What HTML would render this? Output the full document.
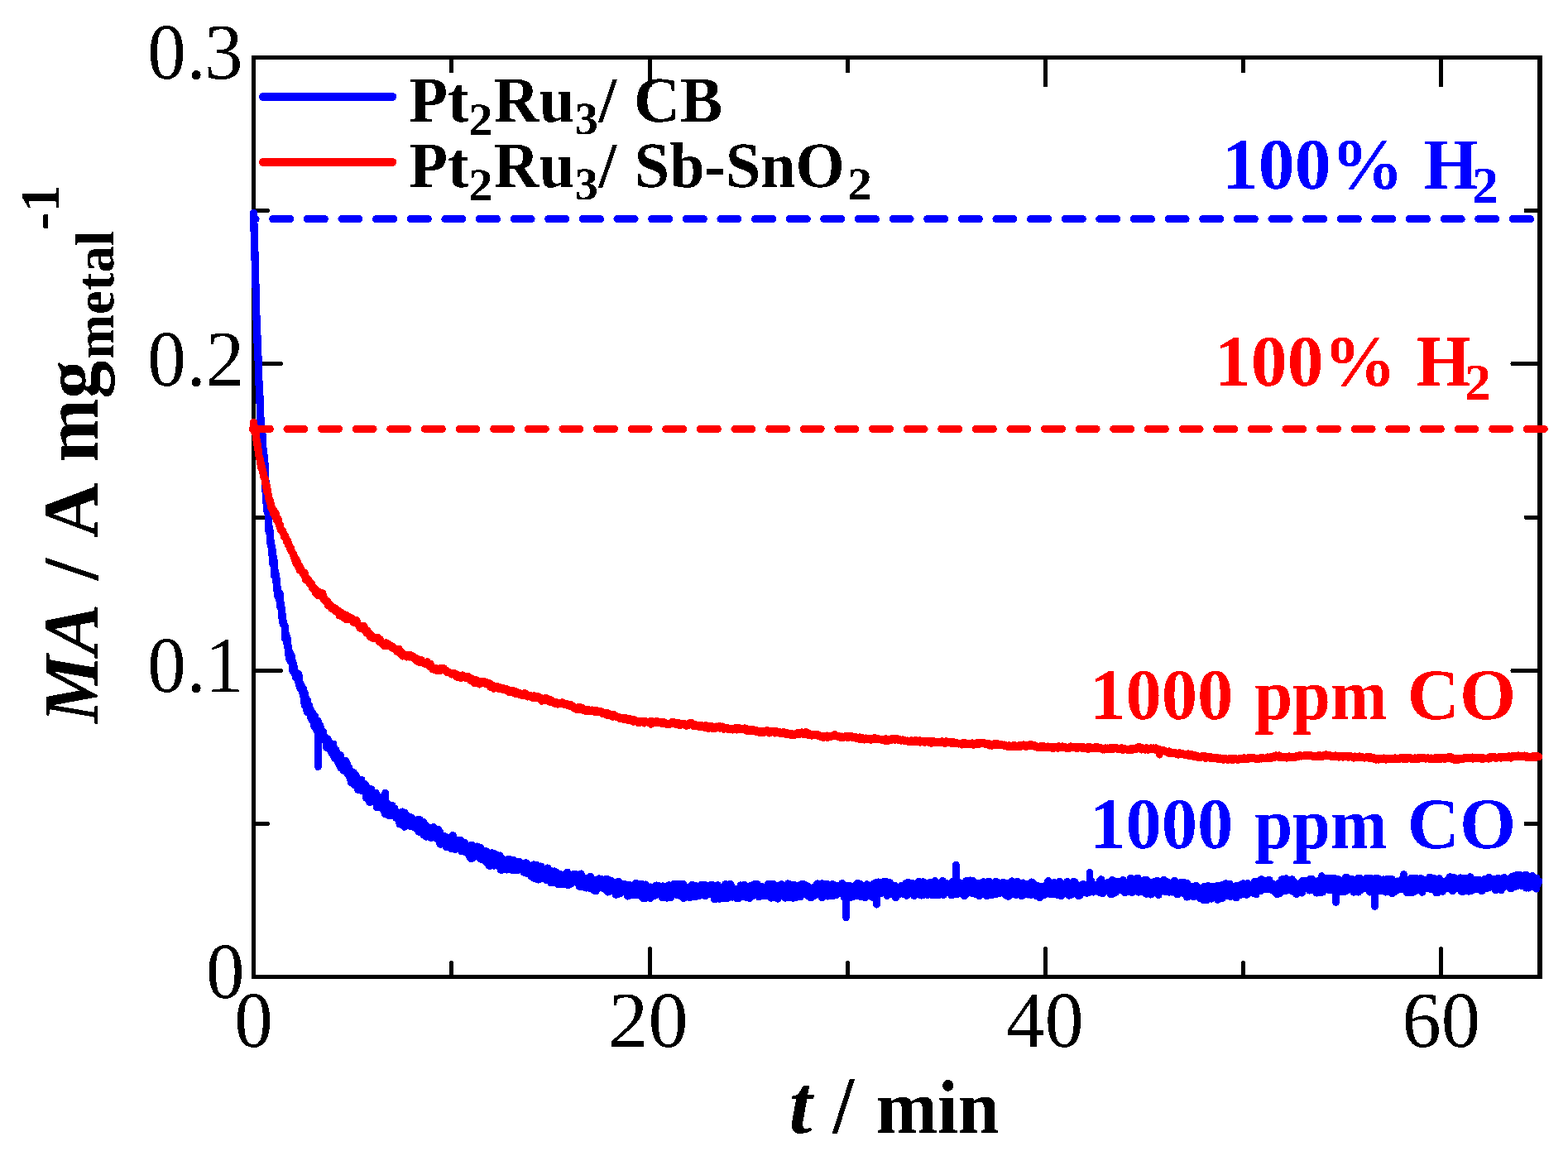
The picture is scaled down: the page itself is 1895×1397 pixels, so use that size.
<!DOCTYPE html>
<html lang="en"><head><meta charset="utf-8"><title>MA vs t</title>
<style>html,body{margin:0;padding:0;background:#fff}body{width:1895px;height:1397px;overflow:hidden}svg{display:block}text{font-family:"Liberation Serif","Times New Roman",Times,serif;font-kerning:none;font-variant-ligatures:none}.r{font-weight:400}.b{font-weight:700}.bi{font-weight:700;font-style:italic}</style></head><body>
<svg width="1895" height="1397" viewBox="0 0 1895 1397" shape-rendering="crispEdges" text-rendering="geometricPrecision">
<rect x="0" y="0" width="1895" height="1397" fill="#fff"/>
<path d="M545.5,1180.5V1163.6M785.5,1180.5V1146.5M1024.5,1180.5V1163.6M1263.5,1180.5V1146.5M1502.5,1180.5V1163.6M1741.5,1180.5V1146.5M306.5,995.5H323.4M1861.0,995.5H1844.1M306.5,810.5H339.6M1861.0,810.5H1827.9M306.5,625.2H323.4M1861.0,625.2H1844.1M306.5,439.5H339.6M1861.0,439.5H1827.9M306.5,254.5H323.4M1861.0,254.5H1844.1" fill="none" stroke="#000" stroke-width="5" stroke-linecap="round"/>
<path d="M545.5,69.5V87.6M785.5,69.5V104.7M1024.5,69.5V87.6M1263.5,69.5V104.7M1502.5,69.5V87.6M1741.5,69.5V104.7" fill="none" stroke="#000" stroke-width="5" stroke-linecap="butt"/>
<rect x="304" y="67" width="1560" height="5" fill="#000"/><rect x="304" y="1178" width="1560" height="5" fill="#000"/><rect x="304" y="67" width="5" height="1116" fill="#000"/><rect x="1858" y="67" width="6" height="1116" fill="#000"/>
<line x1="1849.3" y1="264.6" x2="307.2" y2="264.6" stroke="#0000ff" stroke-width="9.3" stroke-linecap="round" stroke-dasharray="20.8 20.83"/>
<path d="M306.4,257.4 306.8,267.3 307.2,281.4 307.6,296.5 308.0,307.4 308.4,327.5 308.8,342.2 309.2,348.4 309.6,373.7 310.0,384.2 310.4,390.2 310.8,402.8 311.2,416.1 311.6,423.2 312.0,433.9 312.4,439.2 312.8,458.5 313.2,466.9 313.6,477.4 314.0,478.8 314.4,501.9 314.8,503.5 315.2,507.9 315.6,523.6 316.0,520.1 316.4,518.7 316.8,527.8 317.2,525.8 317.6,543.3 318.0,541.6 318.4,545.1 318.8,557.9 319.2,550.7 319.6,565.2 320.0,559.7 320.4,571.0 320.8,575.9 321.2,597.0 321.6,607.1 322.0,604.2 322.4,613.7 322.8,612.9 323.2,619.6 323.6,617.2 324.0,616.5 324.4,619.8 324.8,633.3 325.2,643.8 325.6,640.5 326.0,640.8 326.4,655.2 326.8,651.4 327.2,654.4 327.6,658.5 328.0,660.2 328.4,662.8 328.8,661.1 329.2,672.8 329.6,673.3 330.0,682.0 330.4,678.2 330.8,674.4 331.2,685.3 331.6,696.0 332.0,689.6 332.4,690.1 332.8,691.4 333.2,694.6 333.6,700.4 334.0,698.9 334.4,712.9 334.8,707.3 335.2,711.1 335.6,719.0 336.0,721.4 336.4,715.8 336.8,720.2 337.2,724.0 337.6,722.0 338.0,717.0 338.4,729.8 338.8,733.0 339.2,733.0 339.6,729.4 340.0,734.9 340.4,735.4 340.8,739.1 341.2,748.5 341.6,751.9 342.0,750.5 342.4,752.3 342.8,755.2 343.2,754.5 343.6,756.4 344.0,756.1 344.4,761.2 344.8,772.1 345.2,769.9 345.6,766.9 346.0,768.7 346.4,769.2 346.8,776.9 347.2,779.1 347.6,773.1 348.0,783.6 348.4,780.9 348.8,791.5 349.2,787.7 349.6,796.2 350.0,788.2 350.4,790.5 350.8,794.6 351.2,799.4 351.6,798.6 352.0,792.0 352.4,799.6 352.8,800.2 353.2,799.5 353.6,799.8 354.0,811.5 354.4,803.3 354.8,802.5 355.2,810.2 355.6,809.2 356.0,809.4 356.4,814.3 356.8,814.2 357.2,814.7 357.6,818.5 358.0,816.6 358.4,813.8 358.8,816.0 359.2,816.5 359.6,820.8 360.0,816.4 360.4,814.2 360.8,823.9 361.2,818.8 361.6,817.5 362.0,828.7 362.4,825.2 362.8,831.7 363.2,828.4 363.6,827.0 364.0,827.7 364.4,832.1 364.8,834.3 365.2,833.0 365.6,836.6 366.0,832.2 366.4,840.1 366.8,833.2 367.2,841.3 367.6,846.3 368.0,849.1 368.4,852.8 368.8,839.4 369.2,850.6 369.6,853.6 370.0,853.6 370.4,846.1 370.8,853.0 371.2,860.3 371.6,846.5 372.0,856.2 372.4,859.9 372.8,852.9 373.2,859.5 373.6,853.1 374.0,855.2 374.4,856.2 374.8,861.6 375.2,861.3 375.6,866.8 376.0,859.4 376.4,863.9 376.8,869.7 377.2,868.9 377.6,861.5 378.0,871.2 378.4,867.0 378.8,871.7 379.2,872.2 379.6,877.1 380.0,873.1 380.4,865.2 380.8,868.2 381.2,878.2 381.6,874.6 382.0,881.4 382.4,878.4 382.8,874.6 383.2,883.3 383.6,875.7 384.0,871.5 384.4,888.9 384.8,872.8 385.2,884.6 385.6,886.5 386.0,883.6 386.4,876.2 386.8,888.7 387.2,878.4 387.6,879.5 388.0,884.4 388.4,890.0 388.8,888.5 389.2,891.3 389.6,886.4 390.0,888.1 390.4,884.5 390.8,888.7 391.2,893.3 391.6,889.9 392.0,893.9 392.4,889.9 392.8,890.4 393.2,893.7 393.6,893.3 394.0,897.3 394.4,896.1 394.8,903.5 395.2,895.5 395.6,896.0 396.0,893.0 396.4,898.3 396.8,901.7 397.2,896.0 397.6,899.6 398.0,903.6 398.4,900.4 398.8,899.3 399.2,906.4 399.6,903.1 400.0,905.0 400.4,909.0 400.8,909.5 401.2,903.6 401.6,903.4 402.0,907.6 402.4,906.4 402.8,899.2 403.2,913.8 403.6,909.0 404.0,912.8 404.4,905.0 404.8,916.5 405.2,908.9 405.6,911.7 406.0,906.7 406.4,912.8 406.8,913.2 407.2,914.0 407.6,917.4 408.0,916.3 408.4,921.0 408.8,915.2 409.2,913.5 409.6,918.3 410.0,921.7 410.4,925.0 410.8,923.6 411.2,912.7 411.6,922.6 412.0,927.9 412.4,922.2 412.8,920.1 413.2,924.2 413.6,921.1 414.0,926.6 414.4,924.2 414.8,930.8 415.2,927.3 415.6,922.4 416.0,928.7 416.4,930.7 416.8,924.6 417.2,925.7 417.6,919.7 418.0,932.6 418.4,926.5 418.8,921.3 419.2,922.4 419.6,929.7 420.0,934.6 420.4,931.4 420.8,934.4 421.2,928.1 421.6,927.6 422.0,937.9 422.4,936.7 422.8,935.0 423.2,941.3 423.6,932.1 424.0,934.9 424.4,941.8 424.8,945.9 425.2,938.4 425.6,946.3 426.0,936.8 426.4,941.4 426.8,939.6 427.2,933.9 427.6,942.4 428.0,945.8 428.4,941.5 428.8,942.3 429.2,949.1 429.6,937.9 430.0,937.1 430.4,941.2 430.8,939.2 431.2,950.7 431.6,946.5 432.0,941.6 432.4,943.1 432.8,954.4 433.2,943.7 433.6,943.4 434.0,948.4 434.4,950.3 434.8,948.8 435.2,944.2 435.6,943.5 436.0,951.6 436.4,949.1 436.8,942.5 437.2,955.3 437.6,954.0 438.0,950.0 438.4,950.3 438.8,952.9 439.2,949.3 439.6,946.9 440.0,954.7 440.4,947.4 440.8,955.9 441.2,948.4 441.6,954.7 442.0,955.1 442.4,964.0 442.8,951.9 443.2,950.9 443.6,954.7 444.0,953.1 444.4,955.9 444.8,960.8 445.2,962.8 445.6,967.1 446.0,957.0 446.4,969.0 446.8,969.4 447.2,960.5 447.6,953.4 448.0,961.7 448.4,962.8 448.8,954.4 449.2,963.4 449.6,962.5 450.0,960.2 450.4,966.7 450.8,968.7 451.2,962.4 451.6,965.8 452.0,962.2 452.4,961.9 452.8,966.0 453.2,968.2 453.6,963.8 454.0,958.2 454.4,969.4 454.8,960.2 455.2,968.1 455.6,975.7 456.0,968.2 456.4,963.4 456.8,962.6 457.2,974.6 457.6,969.8 458.0,972.6 458.4,974.7 458.8,970.9 459.2,970.1 459.6,967.7 460.0,964.0 460.4,966.0 460.8,972.8 461.2,972.7 461.6,975.6 462.0,973.6 462.4,975.2 462.8,978.3 463.2,971.3 463.6,974.2 464.0,968.7 464.4,980.3 464.8,976.4 465.2,978.7 465.6,983.5 466.0,981.7 466.4,976.9 466.8,980.9 467.2,971.4 467.6,979.8 468.0,978.8 468.4,971.3 468.8,984.6 469.2,975.9 469.6,982.2 470.0,977.7 470.4,984.1 470.8,985.8 471.2,976.7 471.6,973.8 472.0,980.2 472.4,984.8 472.8,979.7 473.2,978.8 473.6,983.9 474.0,973.6 474.4,979.2 474.8,976.3 475.2,983.9 475.6,979.5 476.0,978.0 476.4,981.6 476.8,976.9 477.2,983.5 477.6,980.7 478.0,982.3 478.4,981.0 478.8,988.4 479.2,984.2 479.6,987.2 480.0,987.3 480.4,981.9 480.8,988.3 481.2,987.6 481.6,987.7 482.0,984.9 482.4,985.1 482.8,990.7 483.2,995.9 483.6,984.2 484.0,990.5 484.4,986.8 484.8,992.2 485.2,990.9 485.6,993.9 486.0,981.1 486.4,987.0 486.8,985.5 487.2,989.6 487.6,987.1 488.0,987.6 488.4,993.6 488.8,999.1 489.2,982.6 489.6,989.7 490.0,992.5 490.4,991.3 490.8,989.9 491.2,985.5 491.6,987.4 492.0,994.9 492.4,996.5 492.8,992.3 493.2,988.3 493.6,992.5 494.0,991.1 494.4,994.7 494.8,992.9 495.2,989.8 495.6,993.5 496.0,987.7 496.4,996.7 496.8,998.5 497.2,988.3 497.6,995.5 498.0,989.6 498.4,998.9 498.8,998.4 499.2,993.6 499.6,999.3 500.0,993.2 500.4,992.5 500.8,993.1 501.2,995.2 501.6,994.6 502.0,997.0 502.4,993.8 502.8,1000.1 503.2,1001.4 503.6,994.9 504.0,991.0 504.4,1000.7 504.8,1002.8 505.2,997.2 505.6,992.5 506.0,999.6 506.4,1005.3 506.8,990.6 507.2,1001.2 507.6,997.9 508.0,995.8 508.4,1002.0 508.8,994.4 509.2,1001.6 509.6,1006.4 510.0,1001.6 510.4,997.2 510.8,993.5 511.2,995.9 511.6,993.7 512.0,1009.1 512.4,1001.2 512.8,997.9 513.2,997.0 513.6,998.3 514.0,1001.7 514.4,997.7 514.8,1011.0 515.2,1000.5 515.6,1000.5 516.0,1005.5 516.4,1010.7 516.8,1010.3 517.2,1002.5 517.6,1006.0 518.0,1005.7 518.4,1007.5 518.8,1006.5 519.2,1001.4 519.6,1000.2 520.0,1006.7 520.4,1000.9 520.8,1012.3 521.2,1006.7 521.6,1002.2 522.0,1005.5 522.4,1004.9 522.8,1006.7 523.2,1011.7 523.6,1001.4 524.0,999.7 524.4,1009.6 524.8,1007.6 525.2,1009.3 525.6,1010.7 526.0,1008.2 526.4,1012.7 526.8,1005.5 527.2,1009.9 527.6,1006.1 528.0,1005.0 528.4,1012.9 528.8,1012.9 529.2,1002.2 529.6,1005.8 530.0,1012.2 530.4,1015.8 530.8,1008.3 531.2,1010.6 531.6,1005.3 532.0,1020.1 532.4,1014.0 532.8,1016.0 533.2,1015.1 533.6,1016.5 534.0,1015.3 534.4,1011.3 534.8,1016.2 535.2,1013.5 535.6,1019.0 536.0,1010.3 536.4,1011.3 536.8,1016.8 537.2,1019.7 537.6,1014.9 538.0,1011.3 538.4,1014.1 538.8,1012.6 539.2,1023.3 539.6,1019.1 540.0,1020.8 540.4,1016.8 540.8,1013.1 541.2,1020.9 541.6,1023.2 542.0,1018.6 542.4,1016.0 542.8,1021.0 543.2,1014.8 543.6,1019.9 544.0,1013.5 544.4,1012.5 544.8,1019.4 545.2,1018.6 545.6,1025.6 546.0,1016.1 546.4,1017.6 546.8,1012.6 547.2,1009.6 547.6,1010.1 548.0,1020.1 548.4,1013.1 548.8,1023.4 549.2,1024.8 549.6,1017.5 550.0,1026.2 550.4,1020.1 550.8,1024.2 551.2,1018.4 551.6,1023.8 552.0,1015.6 552.4,1022.7 552.8,1018.1 553.2,1019.7 553.6,1023.2 554.0,1021.3 554.4,1020.4 554.8,1024.1 555.2,1024.6 555.6,1015.2 556.0,1023.9 556.4,1024.6 556.8,1018.6 557.2,1023.8 557.6,1016.4 558.0,1028.8 558.4,1021.6 558.8,1022.6 559.2,1028.4 559.6,1022.7 560.0,1026.2 560.4,1019.2 560.8,1021.6 561.2,1018.2 561.6,1023.7 562.0,1029.4 562.4,1026.1 562.8,1029.3 563.2,1021.1 563.6,1022.1 564.0,1024.2 564.4,1029.0 564.8,1028.3 565.2,1027.0 565.6,1030.0 566.0,1026.9 566.4,1027.7 566.8,1033.8 567.2,1025.7 567.6,1029.3 568.0,1035.8 568.4,1029.3 568.8,1032.1 569.2,1026.5 569.6,1037.7 570.0,1021.1 570.4,1024.6 570.8,1025.1 571.2,1036.9 571.6,1031.4 572.0,1028.8 572.4,1024.4 572.8,1031.7 573.2,1030.7 573.6,1027.2 574.0,1023.8 574.4,1025.5 574.8,1031.4 575.2,1031.9 575.6,1031.0 576.0,1030.1 576.4,1023.1 576.8,1031.2 577.2,1026.6 577.6,1031.4 578.0,1033.5 578.4,1028.6 578.8,1027.3 579.2,1036.3 579.6,1033.7 580.0,1029.6 580.4,1024.2 580.8,1032.6 581.2,1035.8 581.6,1038.2 582.0,1030.6 582.4,1030.9 582.8,1032.1 583.2,1037.9 583.6,1029.3 584.0,1034.2 584.4,1030.8 584.8,1036.3 585.2,1028.4 585.6,1037.1 586.0,1033.5 586.4,1034.8 586.8,1038.3 587.2,1041.2 587.6,1028.9 588.0,1040.9 588.4,1039.1 588.8,1035.5 589.2,1043.1 589.6,1038.0 590.0,1043.0 590.4,1034.8 590.8,1033.8 591.2,1043.2 591.6,1046.3 592.0,1040.9 592.4,1042.2 592.8,1036.3 593.2,1032.8 593.6,1037.8 594.0,1045.5 594.4,1030.9 594.8,1037.1 595.2,1031.0 595.6,1040.0 596.0,1043.6 596.4,1034.4 596.8,1038.2 597.2,1046.0 597.6,1040.0 598.0,1035.1 598.4,1034.9 598.8,1032.5 599.2,1044.4 599.6,1037.8 600.0,1045.9 600.4,1045.2 600.8,1038.6 601.2,1039.3 601.6,1045.2 602.0,1042.6 602.4,1043.2 602.8,1034.9 603.2,1046.2 603.6,1038.5 604.0,1034.1 604.4,1039.8 604.8,1044.5 605.2,1051.1 605.6,1041.1 606.0,1037.0 606.4,1051.2 606.8,1043.6 607.2,1041.8 607.6,1038.2 608.0,1038.6 608.4,1049.5 608.8,1041.9 609.2,1040.7 609.6,1040.9 610.0,1050.1 610.4,1040.6 610.8,1046.1 611.2,1044.6 611.6,1044.5 612.0,1039.7 612.4,1046.6 612.8,1050.9 613.2,1043.8 613.6,1040.1 614.0,1038.6 614.4,1045.3 614.8,1043.4 615.2,1044.4 615.6,1045.0 616.0,1038.6 616.4,1048.7 616.8,1046.5 617.2,1045.2 617.6,1046.7 618.0,1049.9 618.4,1046.1 618.8,1042.2 619.2,1051.2 619.6,1044.2 620.0,1043.0 620.4,1039.4 620.8,1046.3 621.2,1041.8 621.6,1044.2 622.0,1048.5 622.4,1046.7 622.8,1051.1 623.2,1048.1 623.6,1045.1 624.0,1045.5 624.4,1044.8 624.8,1050.0 625.2,1047.4 625.6,1045.7 626.0,1051.3 626.4,1048.2 626.8,1045.9 627.2,1041.5 627.6,1050.2 628.0,1049.5 628.4,1048.8 628.8,1046.9 629.2,1045.3 629.6,1048.1 630.0,1050.3 630.4,1048.9 630.8,1049.0 631.2,1047.7 631.6,1051.4 632.0,1051.1 632.4,1047.0 632.8,1053.8 633.2,1054.0 633.6,1054.3 634.0,1050.2 634.4,1050.1 634.8,1046.0 635.2,1054.5 635.6,1042.9 636.0,1049.6 636.4,1049.9 636.8,1055.3 637.2,1051.6 637.6,1047.4 638.0,1045.4 638.4,1048.5 638.8,1052.2 639.2,1052.0 639.6,1050.9 640.0,1048.8 640.4,1050.9 640.8,1056.2 641.2,1047.0 641.6,1052.0 642.0,1059.0 642.4,1054.4 642.8,1050.0 643.2,1055.0 643.6,1048.8 644.0,1052.3 644.4,1059.2 644.8,1060.8 645.2,1045.0 645.6,1055.8 646.0,1061.2 646.4,1050.6 646.8,1054.3 647.2,1059.9 647.6,1051.3 648.0,1055.6 648.4,1053.6 648.8,1045.6 649.2,1055.7 649.6,1053.5 650.0,1058.6 650.4,1063.0 650.8,1057.8 651.2,1053.3 651.6,1057.0 652.0,1056.0 652.4,1059.7 652.8,1049.0 653.2,1050.2 653.6,1047.1 654.0,1058.1 654.4,1055.4 654.8,1052.8 655.2,1052.4 655.6,1053.1 656.0,1051.6 656.4,1054.3 656.8,1053.6 657.2,1061.9 657.6,1057.3 658.0,1052.3 658.4,1053.4 658.8,1061.3 659.2,1058.1 659.6,1057.5 660.0,1059.5 660.4,1063.4 660.8,1051.2 661.2,1053.4 661.6,1049.1 662.0,1059.1 662.4,1055.4 662.8,1054.2 663.2,1054.0 663.6,1060.6 664.0,1057.0 664.4,1055.5 664.8,1063.5 665.2,1053.5 665.6,1052.7 666.0,1066.8 666.4,1057.0 666.8,1056.3 667.2,1055.7 667.6,1058.4 668.0,1062.5 668.4,1062.5 668.8,1061.7 669.2,1058.2 669.6,1053.0 670.0,1060.9 670.4,1066.4 670.8,1064.5 671.2,1059.1 671.6,1063.5 672.0,1058.4 672.4,1059.9 672.8,1054.8 673.2,1058.9 673.6,1061.0 674.0,1059.7 674.4,1063.9 674.8,1068.8 675.2,1066.4 675.6,1059.3 676.0,1057.5 676.4,1057.9 676.8,1056.5 677.2,1060.9 677.6,1062.7 678.0,1061.7 678.4,1061.7 678.8,1061.6 679.2,1060.4 679.6,1057.7 680.0,1068.7 680.4,1065.7 680.8,1057.2 681.2,1057.3 681.6,1058.7 682.0,1061.5 682.4,1067.0 682.8,1066.0 683.2,1066.3 683.6,1066.4 684.0,1066.6 684.4,1065.0 684.8,1063.8 685.2,1061.3 685.6,1054.2 686.0,1061.3 686.4,1069.8 686.8,1059.5 687.2,1059.1 687.6,1066.3 688.0,1062.1 688.4,1059.6 688.8,1068.6 689.2,1064.4 689.6,1065.0 690.0,1059.1 690.4,1063.8 690.8,1063.2 691.2,1065.0 691.6,1066.6 692.0,1066.5 692.4,1062.3 692.8,1064.6 693.2,1056.5 693.6,1064.4 694.0,1064.7 694.4,1060.0 694.8,1058.3 695.2,1061.5 695.6,1056.5 696.0,1063.4 696.4,1063.2 696.8,1057.8 697.2,1062.2 697.6,1066.8 698.0,1066.8 698.4,1066.7 698.8,1061.6 699.2,1060.9 699.6,1060.8 700.0,1065.2 700.4,1071.1 700.8,1069.0 701.2,1069.9 701.6,1069.0 702.0,1056.1 702.4,1062.5 702.8,1061.7 703.2,1069.3 703.6,1071.4 704.0,1061.2 704.4,1064.5 704.8,1067.0 705.2,1062.6 705.6,1062.2 706.0,1062.1 706.4,1069.2 706.8,1061.5 707.2,1070.7 707.6,1066.2 708.0,1069.3 708.4,1073.0 708.8,1063.4 709.2,1062.9 709.6,1068.5 710.0,1062.2 710.4,1063.7 710.8,1066.5 711.2,1067.8 711.6,1061.8 712.0,1065.7 712.4,1070.0 712.8,1073.5 713.2,1059.3 713.6,1073.5 714.0,1071.7 714.4,1063.2 714.8,1061.5 715.2,1069.9 715.6,1066.3 716.0,1068.8 716.4,1072.0 716.8,1066.7 717.2,1069.1 717.6,1070.5 718.0,1072.3 718.4,1076.2 718.8,1075.9 719.2,1069.6 719.6,1067.5 720.0,1076.9 720.4,1071.3 720.8,1070.4 721.2,1063.7 721.6,1072.0 722.0,1065.2 722.4,1066.6 722.8,1062.7 723.2,1066.3 723.6,1068.9 724.0,1062.0 724.4,1064.7 724.8,1068.3 725.2,1063.1 725.6,1063.1 726.0,1065.0 726.4,1062.5 726.8,1071.4 727.2,1064.4 727.6,1072.1 728.0,1072.9 728.4,1063.6 728.8,1069.1 729.2,1067.0 729.6,1064.2 730.0,1067.8 730.4,1068.3 730.8,1072.7 731.2,1074.2 731.6,1065.0 732.0,1068.3 732.4,1072.5 732.8,1075.6 733.2,1062.2 733.6,1076.4 734.0,1070.3 734.4,1077.9 734.8,1069.5 735.2,1067.9 735.6,1072.0 736.0,1077.1 736.4,1072.2 736.8,1063.9 737.2,1075.4 737.6,1065.5 738.0,1068.3 738.4,1067.6 738.8,1064.8 739.2,1067.4 739.6,1068.6 740.0,1070.4 740.4,1072.9 740.8,1071.7 741.2,1066.7 741.6,1072.5 742.0,1077.6 742.4,1077.5 742.8,1074.0 743.2,1076.2 743.6,1077.4 744.0,1079.6 744.4,1081.1 744.8,1072.3 745.2,1072.5 745.6,1080.2 746.0,1080.7 746.4,1080.6 746.8,1065.5 747.2,1072.9 747.6,1065.5 748.0,1077.1 748.4,1074.2 748.8,1074.2 749.2,1073.4 749.6,1079.7 750.0,1072.7 750.4,1078.5 750.8,1076.4 751.2,1075.6 751.6,1076.0 752.0,1074.5 752.4,1069.2 752.8,1077.1 753.2,1077.1 753.6,1073.3 754.0,1077.2 754.4,1077.9 754.8,1068.4 755.2,1073.4 755.6,1072.1 756.0,1070.1 756.4,1075.5 756.8,1070.5 757.2,1072.3 757.6,1075.4 758.0,1075.9 758.4,1075.8 758.8,1082.9 759.2,1072.4 759.6,1075.8 760.0,1069.4 760.4,1076.9 760.8,1080.0 761.2,1080.3 761.6,1072.2 762.0,1073.9 762.4,1080.7 762.8,1074.8 763.2,1079.5 763.6,1071.1 764.0,1081.5 764.4,1080.0 764.8,1077.5 765.2,1072.0 765.6,1074.9 766.0,1076.3 766.4,1076.8 766.8,1075.2 767.2,1074.8 767.6,1076.6 768.0,1081.9 768.4,1067.4 768.8,1069.8 769.2,1069.1 769.6,1072.9 770.0,1068.3 770.4,1078.4 770.8,1076.4 771.2,1074.9 771.6,1073.1 772.0,1076.8 772.4,1076.9 772.8,1077.7 773.2,1073.1 773.6,1079.2 774.0,1070.0 774.4,1082.1 774.8,1068.3 775.2,1074.1 775.6,1071.6 776.0,1080.4 776.4,1070.5 776.8,1085.1 777.2,1070.4 777.6,1085.6 778.0,1079.3 778.4,1077.5 778.8,1079.3 779.2,1085.8 779.6,1081.4 780.0,1069.1 780.4,1082.7 780.8,1078.4 781.2,1070.2 781.6,1080.7 782.0,1071.9 782.4,1078.0 782.8,1078.2 783.2,1074.3 783.6,1079.9 784.0,1072.6 784.4,1077.9 784.8,1074.6 785.2,1076.1 785.6,1085.3 786.0,1077.4 786.4,1072.1 786.8,1076.4 787.2,1073.5 787.6,1077.0 788.0,1077.6 788.4,1077.2 788.8,1077.2 789.2,1074.5 789.6,1078.8 790.0,1081.5 790.4,1074.1 790.8,1076.6 791.2,1077.1 791.6,1082.3 792.0,1081.5 792.4,1073.5 792.8,1077.0 793.2,1070.1 793.6,1072.4 794.0,1076.7 794.4,1079.3 794.8,1080.7 795.2,1075.1 795.6,1070.5 796.0,1078.1 796.4,1075.6 796.8,1078.2 797.2,1077.0 797.6,1079.4 798.0,1079.1 798.4,1079.9 798.8,1074.1 799.2,1080.5 799.6,1073.9 800.0,1076.5 800.4,1084.3 800.8,1077.7 801.2,1071.0 801.6,1082.7 802.0,1080.6 802.4,1081.2 802.8,1077.1 803.2,1077.9 803.6,1075.4 804.0,1073.4 804.4,1083.3 804.8,1075.0 805.2,1074.5 805.6,1074.8 806.0,1085.0 806.4,1080.7 806.8,1075.3 807.2,1076.7 807.6,1079.2 808.0,1080.8 808.4,1069.9 808.8,1080.9 809.2,1076.0 809.6,1073.9 810.0,1075.2 810.4,1080.3 810.8,1084.5 811.2,1077.4 811.6,1079.1 812.0,1073.0 812.4,1078.7 812.8,1080.1 813.2,1069.9 813.6,1074.1 814.0,1079.8 814.4,1068.5 814.8,1074.6 815.2,1078.8 815.6,1068.7 816.0,1074.4 816.4,1076.4 816.8,1080.0 817.2,1070.5 817.6,1081.0 818.0,1077.5 818.4,1081.4 818.8,1081.3 819.2,1077.7 819.6,1078.4 820.0,1068.6 820.4,1070.4 820.8,1071.9 821.2,1074.9 821.6,1080.5 822.0,1068.6 822.4,1075.1 822.8,1070.7 823.2,1069.7 823.6,1083.1 824.0,1077.1 824.4,1083.9 824.8,1082.0 825.2,1072.7 825.6,1068.7 826.0,1085.3 826.4,1075.2 826.8,1072.0 827.2,1080.1 827.6,1077.7 828.0,1074.2 828.4,1075.7 828.8,1078.0 829.2,1077.7 829.6,1080.8 830.0,1076.0 830.4,1076.1 830.8,1080.3 831.2,1079.1 831.6,1082.6 832.0,1076.7 832.4,1077.4 832.8,1072.8 833.2,1084.5 833.6,1071.7 834.0,1078.7 834.4,1073.9 834.8,1079.2 835.2,1080.9 835.6,1070.4 836.0,1076.5 836.4,1069.6 836.8,1083.4 837.2,1075.2 837.6,1070.1 838.0,1073.8 838.4,1082.5 838.8,1083.2 839.2,1082.1 839.6,1072.9 840.0,1075.6 840.4,1083.4 840.8,1072.9 841.2,1074.6 841.6,1071.9 842.0,1070.9 842.4,1081.3 842.8,1078.8 843.2,1078.0 843.6,1078.6 844.0,1080.6 844.4,1082.7 844.8,1076.1 845.2,1074.7 845.6,1071.7 846.0,1081.0 846.4,1074.1 846.8,1069.8 847.2,1075.2 847.6,1076.6 848.0,1080.1 848.4,1080.9 848.8,1073.3 849.2,1073.1 849.6,1075.2 850.0,1071.3 850.4,1076.2 850.8,1078.7 851.2,1076.9 851.6,1069.6 852.0,1071.4 852.4,1082.4 852.8,1072.2 853.2,1080.0 853.6,1079.5 854.0,1075.3 854.4,1072.4 854.8,1077.8 855.2,1073.0 855.6,1076.1 856.0,1077.4 856.4,1073.9 856.8,1076.1 857.2,1075.8 857.6,1071.8 858.0,1076.5 858.4,1074.7 858.8,1069.5 859.2,1076.2 859.6,1076.5 860.0,1075.2 860.4,1069.6 860.8,1081.5 861.2,1081.2 861.6,1081.1 862.0,1079.7 862.4,1072.8 862.8,1079.0 863.2,1074.4 863.6,1086.8 864.0,1076.2 864.4,1081.4 864.8,1071.6 865.2,1073.2 865.6,1076.0 866.0,1081.4 866.4,1080.7 866.8,1079.4 867.2,1069.9 867.6,1083.0 868.0,1073.9 868.4,1085.0 868.8,1086.0 869.2,1081.4 869.6,1082.0 870.0,1072.1 870.4,1085.9 870.8,1078.5 871.2,1081.9 871.6,1073.7 872.0,1077.1 872.4,1072.2 872.8,1076.3 873.2,1077.4 873.6,1078.4 874.0,1083.4 874.4,1079.3 874.8,1078.2 875.2,1077.3 875.6,1085.4 876.0,1074.5 876.4,1082.2 876.8,1068.6 877.2,1073.1 877.6,1078.7 878.0,1076.2 878.4,1085.2 878.8,1085.2 879.2,1070.1 879.6,1072.1 880.0,1076.2 880.4,1084.5 880.8,1081.8 881.2,1078.3 881.6,1070.6 882.0,1073.1 882.4,1068.5 882.8,1070.1 883.2,1078.7 883.6,1080.3 884.0,1071.1 884.4,1077.3 884.8,1084.0 885.2,1077.6 885.6,1075.5 886.0,1079.5 886.4,1079.2 886.8,1077.2 887.2,1074.5 887.6,1075.0 888.0,1077.3 888.4,1074.5 888.8,1082.8 889.2,1081.0 889.6,1081.9 890.0,1085.5 890.4,1084.1 890.8,1083.5 891.2,1078.9 891.6,1076.5 892.0,1085.8 892.4,1074.5 892.8,1074.8 893.2,1073.7 893.6,1078.5 894.0,1079.5 894.4,1082.2 894.8,1076.7 895.2,1070.0 895.6,1079.0 896.0,1081.9 896.4,1077.7 896.8,1077.0 897.2,1080.0 897.6,1083.8 898.0,1077.2 898.4,1071.2 898.8,1074.9 899.2,1076.6 899.6,1069.4 900.0,1080.7 900.4,1073.9 900.8,1079.5 901.2,1078.1 901.6,1075.8 902.0,1084.3 902.4,1074.6 902.8,1074.1 903.2,1078.4 903.6,1080.7 904.0,1077.0 904.4,1072.7 904.8,1080.0 905.2,1079.6 905.6,1085.3 906.0,1075.9 906.4,1077.8 906.8,1074.4 907.2,1070.3 907.6,1077.1 908.0,1080.5 908.4,1072.3 908.8,1073.8 909.2,1071.6 909.6,1082.6 910.0,1073.9 910.4,1079.2 910.8,1072.9 911.2,1077.0 911.6,1074.0 912.0,1068.4 912.4,1077.1 912.8,1079.1 913.2,1068.5 913.6,1076.1 914.0,1075.0 914.4,1072.3 914.8,1076.0 915.2,1068.8 915.6,1078.3 916.0,1082.5 916.4,1071.8 916.8,1077.2 917.2,1083.8 917.6,1078.1 918.0,1075.4 918.4,1073.7 918.8,1078.6 919.2,1077.3 919.6,1080.7 920.0,1071.3 920.4,1082.8 920.8,1076.3 921.2,1080.9 921.6,1074.9 922.0,1072.4 922.4,1075.6 922.8,1073.9 923.2,1076.4 923.6,1080.8 924.0,1082.7 924.4,1078.8 924.8,1075.4 925.2,1075.7 925.6,1080.2 926.0,1082.5 926.4,1076.0 926.8,1076.8 927.2,1073.9 927.6,1078.1 928.0,1081.3 928.4,1068.6 928.8,1078.0 929.2,1074.4 929.6,1068.4 930.0,1078.1 930.4,1076.3 930.8,1078.3 931.2,1070.7 931.6,1085.0 932.0,1077.2 932.4,1075.2 932.8,1083.5 933.2,1079.7 933.6,1080.6 934.0,1082.1 934.4,1068.7 934.8,1084.5 935.2,1075.7 935.6,1078.6 936.0,1081.5 936.4,1074.3 936.8,1078.9 937.2,1080.9 937.6,1077.4 938.0,1079.8 938.4,1070.6 938.8,1072.4 939.2,1072.6 939.6,1079.3 940.0,1086.0 940.4,1078.8 940.8,1077.0 941.2,1077.3 941.6,1081.9 942.0,1080.6 942.4,1072.4 942.8,1081.9 943.2,1077.2 943.6,1080.9 944.0,1068.9 944.4,1070.4 944.8,1079.8 945.2,1069.2 945.6,1078.8 946.0,1078.5 946.4,1077.6 946.8,1078.5 947.2,1078.0 947.6,1078.8 948.0,1075.0 948.4,1076.6 948.8,1085.0 949.2,1081.6 949.6,1079.3 950.0,1078.3 950.4,1073.3 950.8,1077.5 951.2,1075.3 951.6,1080.6 952.0,1072.3 952.4,1068.0 952.8,1073.9 953.2,1079.4 953.6,1084.7 954.0,1080.9 954.4,1072.1 954.8,1075.4 955.2,1072.2 955.6,1075.6 956.0,1072.6 956.4,1069.3 956.8,1078.5 957.2,1077.5 957.6,1075.9 958.0,1078.3 958.4,1085.1 958.8,1077.3 959.2,1075.2 959.6,1080.7 960.0,1069.7 960.4,1080.3 960.8,1073.6 961.2,1073.4 961.6,1077.5 962.0,1084.4 962.4,1073.8 962.8,1081.3 963.2,1078.8 963.6,1071.0 964.0,1081.2 964.4,1073.5 964.8,1070.7 965.2,1073.7 965.6,1074.0 966.0,1079.8 966.4,1074.0 966.8,1083.8 967.2,1078.2 967.6,1074.1 968.0,1073.6 968.4,1078.3 968.8,1068.9 969.2,1068.9 969.6,1073.4 970.0,1080.1 970.4,1078.1 970.8,1077.4 971.2,1076.3 971.6,1068.9 972.0,1075.8 972.4,1069.3 972.8,1080.8 973.2,1077.0 973.6,1076.6 974.0,1078.7 974.4,1078.4 974.8,1077.9 975.2,1078.4 975.6,1074.2 976.0,1070.9 976.4,1078.2 976.8,1083.0 977.2,1081.1 977.6,1075.7 978.0,1079.3 978.4,1074.6 978.8,1078.2 979.2,1073.9 979.6,1077.1 980.0,1084.9 980.4,1079.9 980.8,1083.1 981.2,1073.1 981.6,1073.5 982.0,1076.3 982.4,1078.9 982.8,1075.6 983.2,1080.9 983.6,1074.1 984.0,1082.5 984.4,1080.7 984.8,1071.6 985.2,1079.0 985.6,1075.5 986.0,1080.9 986.4,1074.1 986.8,1077.8 987.2,1078.8 987.6,1068.0 988.0,1068.1 988.4,1076.9 988.8,1075.7 989.2,1080.7 989.6,1077.2 990.0,1070.6 990.4,1077.7 990.8,1072.9 991.2,1075.2 991.6,1073.9 992.0,1077.7 992.4,1069.9 992.8,1071.3 993.2,1067.9 993.6,1084.6 994.0,1071.9 994.4,1072.6 994.8,1071.3 995.2,1073.6 995.6,1074.6 996.0,1079.3 996.4,1077.5 996.8,1078.2 997.2,1074.2 997.6,1076.6 998.0,1082.3 998.4,1076.9 998.8,1078.4 999.2,1068.8 999.6,1079.5 1000.0,1078.4 1000.4,1082.9 1000.8,1068.9 1001.2,1077.4 1001.6,1076.8 1002.0,1077.7 1002.4,1074.5 1002.8,1078.2 1003.2,1080.3 1003.6,1077.4 1004.0,1075.9 1004.4,1076.2 1004.8,1075.4 1005.2,1077.2 1005.6,1073.8 1006.0,1068.6 1006.4,1082.7 1006.8,1068.9 1007.2,1076.0 1007.6,1070.7 1008.0,1075.1 1008.4,1072.0 1008.8,1076.0 1009.2,1072.4 1009.6,1070.3 1010.0,1077.3 1010.4,1081.7 1010.8,1077.3 1011.2,1076.2 1011.6,1071.0 1012.0,1075.2 1012.4,1077.5 1012.8,1072.7 1013.2,1079.5 1013.6,1075.3 1014.0,1077.1 1014.4,1073.3 1014.8,1073.4 1015.2,1076.5 1015.6,1077.3 1016.0,1077.2 1016.4,1071.2 1016.8,1072.5 1017.2,1075.7 1017.6,1067.7 1018.0,1080.6 1018.4,1077.5 1018.8,1076.3 1019.2,1073.1 1019.6,1079.9 1020.0,1075.2 1020.4,1084.9 1020.8,1078.3 1021.2,1070.1 1021.6,1079.9 1022.0,1074.5 1022.4,1074.5 1022.8,1075.8 1023.2,1076.3 1023.6,1078.0 1024.0,1080.3 1024.4,1078.9 1024.8,1073.7 1025.2,1070.9 1025.6,1073.3 1026.0,1078.4 1026.4,1080.6 1026.8,1084.7 1027.2,1070.8 1027.6,1077.0 1028.0,1075.6 1028.4,1074.8 1028.8,1077.1 1029.2,1075.4 1029.6,1075.2 1030.0,1073.5 1030.4,1078.0 1030.8,1080.8 1031.2,1083.3 1031.6,1073.8 1032.0,1071.4 1032.4,1074.8 1032.8,1072.2 1033.2,1080.3 1033.6,1072.2 1034.0,1076.0 1034.4,1069.7 1034.8,1074.1 1035.2,1076.4 1035.6,1082.3 1036.0,1072.5 1036.4,1077.1 1036.8,1067.4 1037.2,1070.2 1037.6,1071.9 1038.0,1073.3 1038.4,1077.4 1038.8,1078.3 1039.2,1068.5 1039.6,1077.9 1040.0,1070.7 1040.4,1083.7 1040.8,1077.1 1041.2,1076.4 1041.6,1075.0 1042.0,1075.6 1042.4,1075.8 1042.8,1072.8 1043.2,1079.2 1043.6,1077.1 1044.0,1079.2 1044.4,1075.7 1044.8,1079.0 1045.2,1072.7 1045.6,1084.7 1046.0,1072.9 1046.4,1074.1 1046.8,1080.3 1047.2,1081.5 1047.6,1072.6 1048.0,1068.8 1048.4,1069.9 1048.8,1071.7 1049.2,1072.6 1049.6,1075.3 1050.0,1080.6 1050.4,1080.8 1050.8,1073.3 1051.2,1078.3 1051.6,1079.8 1052.0,1082.0 1052.4,1075.1 1052.8,1072.5 1053.2,1079.0 1053.6,1082.3 1054.0,1073.3 1054.4,1084.1 1054.8,1083.0 1055.2,1074.2 1055.6,1068.4 1056.0,1072.6 1056.4,1073.7 1056.8,1077.5 1057.2,1067.7 1057.6,1083.7 1058.0,1083.6 1058.4,1071.7 1058.8,1066.7 1059.2,1073.9 1059.6,1076.5 1060.0,1080.4 1060.4,1077.5 1060.8,1073.4 1061.2,1066.1 1061.6,1076.3 1062.0,1077.6 1062.4,1072.4 1062.8,1074.9 1063.2,1074.5 1063.6,1072.4 1064.0,1068.3 1064.4,1074.7 1064.8,1066.9 1065.2,1079.2 1065.6,1069.0 1066.0,1075.1 1066.4,1069.7 1066.8,1074.5 1067.2,1071.9 1067.6,1075.2 1068.0,1069.3 1068.4,1065.7 1068.8,1071.6 1069.2,1071.3 1069.6,1066.3 1070.0,1070.0 1070.4,1065.7 1070.8,1073.7 1071.2,1071.6 1071.6,1073.4 1072.0,1082.2 1072.4,1074.3 1072.8,1075.4 1073.2,1076.7 1073.6,1073.5 1074.0,1071.7 1074.4,1078.3 1074.8,1079.1 1075.2,1066.7 1075.6,1074.2 1076.0,1073.6 1076.4,1072.8 1076.8,1080.9 1077.2,1073.2 1077.6,1079.5 1078.0,1073.4 1078.4,1074.1 1078.8,1079.1 1079.2,1072.7 1079.6,1075.3 1080.0,1071.2 1080.4,1072.2 1080.8,1079.2 1081.2,1078.6 1081.6,1071.0 1082.0,1070.7 1082.4,1084.6 1082.8,1073.0 1083.2,1071.9 1083.6,1077.9 1084.0,1072.2 1084.4,1073.9 1084.8,1079.3 1085.2,1079.7 1085.6,1074.3 1086.0,1080.9 1086.4,1074.3 1086.8,1073.7 1087.2,1074.7 1087.6,1073.2 1088.0,1076.8 1088.4,1075.6 1088.8,1070.8 1089.2,1074.9 1089.6,1071.6 1090.0,1071.4 1090.4,1073.2 1090.8,1078.2 1091.2,1074.9 1091.6,1079.2 1092.0,1080.4 1092.4,1073.4 1092.8,1070.8 1093.2,1070.0 1093.6,1074.6 1094.0,1077.2 1094.4,1080.4 1094.8,1067.7 1095.2,1077.5 1095.6,1078.1 1096.0,1082.1 1096.4,1074.3 1096.8,1073.3 1097.2,1066.8 1097.6,1070.1 1098.0,1068.7 1098.4,1069.2 1098.8,1069.7 1099.2,1067.0 1099.6,1073.3 1100.0,1075.5 1100.4,1077.2 1100.8,1073.4 1101.2,1078.5 1101.6,1078.6 1102.0,1067.2 1102.4,1072.7 1102.8,1068.4 1103.2,1069.6 1103.6,1074.7 1104.0,1073.3 1104.4,1080.2 1104.8,1082.4 1105.2,1075.5 1105.6,1072.8 1106.0,1072.9 1106.4,1073.4 1106.8,1075.9 1107.2,1070.1 1107.6,1075.8 1108.0,1072.1 1108.4,1077.8 1108.8,1079.1 1109.2,1080.7 1109.6,1072.4 1110.0,1067.1 1110.4,1065.7 1110.8,1071.8 1111.2,1066.9 1111.6,1065.9 1112.0,1071.6 1112.4,1068.9 1112.8,1076.4 1113.2,1081.9 1113.6,1072.5 1114.0,1075.0 1114.4,1066.7 1114.8,1074.6 1115.2,1070.8 1115.6,1069.1 1116.0,1065.9 1116.4,1081.2 1116.8,1067.1 1117.2,1068.9 1117.6,1074.4 1118.0,1075.6 1118.4,1075.7 1118.8,1074.9 1119.2,1070.5 1119.6,1077.8 1120.0,1075.2 1120.4,1067.9 1120.8,1081.3 1121.2,1072.7 1121.6,1078.3 1122.0,1067.6 1122.4,1068.7 1122.8,1071.3 1123.2,1070.7 1123.6,1078.1 1124.0,1066.4 1124.4,1074.1 1124.8,1068.9 1125.2,1075.5 1125.6,1074.1 1126.0,1070.6 1126.4,1081.5 1126.8,1072.8 1127.2,1077.7 1127.6,1067.1 1128.0,1072.3 1128.4,1073.3 1128.8,1073.5 1129.2,1071.4 1129.6,1069.3 1130.0,1064.8 1130.4,1070.6 1130.8,1069.1 1131.2,1072.0 1131.6,1077.0 1132.0,1081.7 1132.4,1075.6 1132.8,1077.8 1133.2,1076.1 1133.6,1076.5 1134.0,1075.9 1134.4,1072.2 1134.8,1071.9 1135.2,1074.7 1135.6,1081.2 1136.0,1076.7 1136.4,1080.3 1136.8,1067.5 1137.2,1074.3 1137.6,1074.8 1138.0,1075.3 1138.4,1067.0 1138.8,1064.9 1139.2,1064.6 1139.6,1071.2 1140.0,1081.3 1140.4,1073.9 1140.8,1067.6 1141.2,1074.4 1141.6,1071.6 1142.0,1073.7 1142.4,1071.0 1142.8,1067.3 1143.2,1070.7 1143.6,1076.3 1144.0,1074.5 1144.4,1078.6 1144.8,1068.5 1145.2,1077.9 1145.6,1073.6 1146.0,1074.2 1146.4,1078.9 1146.8,1072.8 1147.2,1074.6 1147.6,1076.3 1148.0,1076.3 1148.4,1077.1 1148.8,1079.2 1149.2,1075.8 1149.6,1071.6 1150.0,1081.8 1150.4,1073.4 1150.8,1075.3 1151.2,1070.3 1151.6,1065.2 1152.0,1070.3 1152.4,1074.0 1152.8,1076.1 1153.2,1074.0 1153.6,1077.4 1154.0,1078.3 1154.4,1078.4 1154.8,1074.2 1155.2,1074.6 1155.6,1073.4 1156.0,1070.6 1156.4,1080.8 1156.8,1069.2 1157.2,1074.4 1157.6,1075.8 1158.0,1066.4 1158.4,1078.3 1158.8,1073.6 1159.2,1076.2 1159.6,1073.8 1160.0,1068.6 1160.4,1076.2 1160.8,1075.9 1161.2,1079.8 1161.6,1077.5 1162.0,1068.0 1162.4,1080.2 1162.8,1078.8 1163.2,1078.6 1163.6,1077.2 1164.0,1071.9 1164.4,1077.2 1164.8,1073.0 1165.2,1082.6 1165.6,1073.2 1166.0,1069.2 1166.4,1072.4 1166.8,1080.1 1167.2,1071.0 1167.6,1064.8 1168.0,1079.7 1168.4,1074.5 1168.8,1070.7 1169.2,1076.0 1169.6,1068.7 1170.0,1067.5 1170.4,1076.8 1170.8,1070.3 1171.2,1074.9 1171.6,1072.6 1172.0,1076.2 1172.4,1073.1 1172.8,1064.1 1173.2,1075.7 1173.6,1070.7 1174.0,1076.7 1174.4,1073.4 1174.8,1079.2 1175.2,1071.7 1175.6,1064.6 1176.0,1071.8 1176.4,1075.5 1176.8,1071.8 1177.2,1071.4 1177.6,1080.0 1178.0,1072.9 1178.4,1078.3 1178.8,1074.4 1179.2,1067.4 1179.6,1069.7 1180.0,1072.5 1180.4,1075.3 1180.8,1070.4 1181.2,1067.8 1181.6,1069.6 1182.0,1071.9 1182.4,1070.3 1182.8,1071.7 1183.2,1082.5 1183.6,1075.5 1184.0,1070.7 1184.4,1074.3 1184.8,1081.3 1185.2,1077.3 1185.6,1074.0 1186.0,1068.5 1186.4,1067.0 1186.8,1072.9 1187.2,1074.0 1187.6,1067.3 1188.0,1068.6 1188.4,1074.3 1188.8,1065.9 1189.2,1066.8 1189.6,1074.2 1190.0,1076.9 1190.4,1075.8 1190.8,1078.8 1191.2,1081.3 1191.6,1078.3 1192.0,1073.1 1192.4,1082.5 1192.8,1081.7 1193.2,1078.4 1193.6,1070.6 1194.0,1076.0 1194.4,1065.6 1194.8,1072.7 1195.2,1065.6 1195.6,1072.3 1196.0,1078.6 1196.4,1074.2 1196.8,1081.2 1197.2,1074.1 1197.6,1074.6 1198.0,1072.8 1198.4,1076.5 1198.8,1074.0 1199.2,1079.5 1199.6,1081.3 1200.0,1075.9 1200.4,1069.3 1200.8,1076.7 1201.2,1080.2 1201.6,1077.1 1202.0,1075.5 1202.4,1078.3 1202.8,1079.9 1203.2,1065.4 1203.6,1080.6 1204.0,1077.3 1204.4,1075.9 1204.8,1071.2 1205.2,1074.5 1205.6,1076.1 1206.0,1066.8 1206.4,1076.5 1206.8,1073.4 1207.2,1079.5 1207.6,1075.9 1208.0,1072.1 1208.4,1073.0 1208.8,1075.6 1209.2,1073.4 1209.6,1075.2 1210.0,1069.7 1210.4,1067.4 1210.8,1070.5 1211.2,1066.9 1211.6,1069.9 1212.0,1075.0 1212.4,1066.4 1212.8,1068.3 1213.2,1077.2 1213.6,1071.8 1214.0,1074.2 1214.4,1069.0 1214.8,1070.0 1215.2,1073.4 1215.6,1082.0 1216.0,1076.9 1216.4,1067.6 1216.8,1077.0 1217.2,1079.2 1217.6,1078.2 1218.0,1069.7 1218.4,1074.8 1218.8,1083.1 1219.2,1070.9 1219.6,1076.4 1220.0,1071.5 1220.4,1069.1 1220.8,1072.6 1221.2,1078.9 1221.6,1079.4 1222.0,1070.2 1222.4,1071.9 1222.8,1069.9 1223.2,1065.0 1223.6,1076.2 1224.0,1080.3 1224.4,1079.9 1224.8,1071.2 1225.2,1079.0 1225.6,1078.0 1226.0,1071.7 1226.4,1073.1 1226.8,1071.6 1227.2,1074.3 1227.6,1081.3 1228.0,1069.3 1228.4,1068.2 1228.8,1077.5 1229.2,1074.0 1229.6,1065.5 1230.0,1069.5 1230.4,1070.4 1230.8,1071.5 1231.2,1075.6 1231.6,1078.7 1232.0,1073.7 1232.4,1075.1 1232.8,1071.2 1233.2,1079.0 1233.6,1080.4 1234.0,1073.4 1234.4,1071.3 1234.8,1082.6 1235.2,1078.6 1235.6,1070.6 1236.0,1067.1 1236.4,1073.2 1236.8,1079.7 1237.2,1072.0 1237.6,1073.3 1238.0,1072.2 1238.4,1077.2 1238.8,1080.5 1239.2,1068.8 1239.6,1073.0 1240.0,1073.4 1240.4,1071.5 1240.8,1069.0 1241.2,1077.9 1241.6,1075.0 1242.0,1077.5 1242.4,1081.0 1242.8,1072.7 1243.2,1076.8 1243.6,1072.6 1244.0,1074.1 1244.4,1076.0 1244.8,1073.8 1245.2,1068.0 1245.6,1081.3 1246.0,1075.4 1246.4,1069.8 1246.8,1066.1 1247.2,1074.8 1247.6,1077.9 1248.0,1079.6 1248.4,1080.1 1248.8,1073.6 1249.2,1078.2 1249.6,1068.7 1250.0,1076.2 1250.4,1079.7 1250.8,1073.0 1251.2,1075.1 1251.6,1076.3 1252.0,1076.6 1252.4,1082.6 1252.8,1071.3 1253.2,1082.1 1253.6,1070.7 1254.0,1073.3 1254.4,1072.9 1254.8,1076.0 1255.2,1074.2 1255.6,1078.5 1256.0,1076.4 1256.4,1084.4 1256.8,1078.1 1257.2,1075.2 1257.6,1077.9 1258.0,1078.9 1258.4,1075.3 1258.8,1071.2 1259.2,1072.4 1259.6,1076.7 1260.0,1079.4 1260.4,1077.7 1260.8,1075.1 1261.2,1077.8 1261.6,1073.0 1262.0,1076.1 1262.4,1081.1 1262.8,1079.6 1263.2,1080.5 1263.6,1072.7 1264.0,1075.1 1264.4,1069.6 1264.8,1078.0 1265.2,1071.9 1265.6,1067.9 1266.0,1071.5 1266.4,1074.7 1266.8,1064.8 1267.2,1067.3 1267.6,1077.9 1268.0,1074.0 1268.4,1073.4 1268.8,1066.5 1269.2,1080.6 1269.6,1078.2 1270.0,1076.8 1270.4,1068.8 1270.8,1076.3 1271.2,1078.9 1271.6,1072.4 1272.0,1072.8 1272.4,1071.8 1272.8,1076.6 1273.2,1072.9 1273.6,1072.5 1274.0,1067.5 1274.4,1066.6 1274.8,1078.0 1275.2,1080.8 1275.6,1077.7 1276.0,1080.1 1276.4,1071.5 1276.8,1073.7 1277.2,1075.6 1277.6,1073.2 1278.0,1081.3 1278.4,1068.2 1278.8,1071.6 1279.2,1072.6 1279.6,1071.1 1280.0,1078.0 1280.4,1065.6 1280.8,1079.4 1281.2,1078.4 1281.6,1075.9 1282.0,1080.7 1282.4,1082.6 1282.8,1075.5 1283.2,1077.9 1283.6,1076.4 1284.0,1077.0 1284.4,1072.5 1284.8,1071.5 1285.2,1077.4 1285.6,1072.4 1286.0,1078.8 1286.4,1078.1 1286.8,1072.6 1287.2,1076.1 1287.6,1074.8 1288.0,1073.9 1288.4,1079.4 1288.8,1074.5 1289.2,1075.3 1289.6,1065.7 1290.0,1076.9 1290.4,1067.9 1290.8,1072.5 1291.2,1081.2 1291.6,1082.0 1292.0,1072.4 1292.4,1068.6 1292.8,1075.9 1293.2,1072.4 1293.6,1075.7 1294.0,1068.3 1294.4,1079.2 1294.8,1081.1 1295.2,1067.9 1295.6,1070.9 1296.0,1071.3 1296.4,1077.6 1296.8,1065.8 1297.2,1075.4 1297.6,1073.5 1298.0,1071.0 1298.4,1077.7 1298.8,1066.0 1299.2,1068.6 1299.6,1071.2 1300.0,1077.8 1300.4,1073.2 1300.8,1071.1 1301.2,1076.9 1301.6,1072.7 1302.0,1072.0 1302.4,1073.5 1302.8,1076.3 1303.2,1082.7 1303.6,1070.1 1304.0,1076.1 1304.4,1074.2 1304.8,1073.7 1305.2,1081.5 1305.6,1078.1 1306.0,1077.6 1306.4,1072.6 1306.8,1070.8 1307.2,1075.7 1307.6,1073.1 1308.0,1071.7 1308.4,1077.0 1308.8,1068.6 1309.2,1070.6 1309.6,1077.1 1310.0,1073.1 1310.4,1076.2 1310.8,1069.4 1311.2,1076.1 1311.6,1069.7 1312.0,1078.7 1312.4,1076.0 1312.8,1074.5 1313.2,1079.1 1313.6,1073.7 1314.0,1069.3 1314.4,1078.9 1314.8,1073.5 1315.2,1077.3 1315.6,1072.6 1316.0,1077.0 1316.4,1068.1 1316.8,1066.4 1317.2,1065.8 1317.6,1075.3 1318.0,1063.4 1318.4,1064.3 1318.8,1065.9 1319.2,1073.3 1319.6,1074.2 1320.0,1068.8 1320.4,1075.9 1320.8,1073.9 1321.2,1077.9 1321.6,1076.7 1322.0,1069.6 1322.4,1073.5 1322.8,1072.0 1323.2,1074.7 1323.6,1073.6 1324.0,1072.8 1324.4,1075.8 1324.8,1072.9 1325.2,1075.8 1325.6,1072.7 1326.0,1071.9 1326.4,1076.6 1326.8,1076.6 1327.2,1077.8 1327.6,1075.1 1328.0,1071.4 1328.4,1073.1 1328.8,1072.9 1329.2,1064.4 1329.6,1067.2 1330.0,1078.7 1330.4,1071.8 1330.8,1062.9 1331.2,1071.5 1331.6,1072.7 1332.0,1066.6 1332.4,1079.7 1332.8,1077.0 1333.2,1075.7 1333.6,1071.3 1334.0,1074.3 1334.4,1076.0 1334.8,1074.4 1335.2,1069.5 1335.6,1073.3 1336.0,1073.1 1336.4,1073.9 1336.8,1068.2 1337.2,1074.0 1337.6,1072.9 1338.0,1074.0 1338.4,1073.9 1338.8,1066.8 1339.2,1076.9 1339.6,1076.5 1340.0,1067.3 1340.4,1072.8 1340.8,1069.5 1341.2,1071.2 1341.6,1077.5 1342.0,1075.4 1342.4,1080.8 1342.8,1073.3 1343.2,1067.9 1343.6,1073.2 1344.0,1063.6 1344.4,1080.2 1344.8,1073.4 1345.2,1074.0 1345.6,1072.5 1346.0,1068.0 1346.4,1071.0 1346.8,1068.0 1347.2,1069.0 1347.6,1072.6 1348.0,1065.7 1348.4,1078.1 1348.8,1066.2 1349.2,1074.5 1349.6,1068.0 1350.0,1065.3 1350.4,1072.4 1350.8,1071.5 1351.2,1069.8 1351.6,1070.5 1352.0,1068.1 1352.4,1072.7 1352.8,1068.7 1353.2,1070.9 1353.6,1075.7 1354.0,1065.1 1354.4,1068.4 1354.8,1067.9 1355.2,1067.3 1355.6,1064.9 1356.0,1069.6 1356.4,1071.4 1356.8,1070.2 1357.2,1063.7 1357.6,1073.6 1358.0,1073.6 1358.4,1070.8 1358.8,1066.1 1359.2,1066.7 1359.6,1078.7 1360.0,1077.9 1360.4,1072.4 1360.8,1066.4 1361.2,1075.8 1361.6,1071.1 1362.0,1077.6 1362.4,1067.8 1362.8,1072.3 1363.2,1069.3 1363.6,1073.5 1364.0,1067.4 1364.4,1074.2 1364.8,1068.5 1365.2,1066.3 1365.6,1072.6 1366.0,1071.2 1366.4,1061.7 1366.8,1069.9 1367.2,1070.5 1367.6,1070.9 1368.0,1078.4 1368.4,1067.3 1368.8,1070.0 1369.2,1062.6 1369.6,1063.7 1370.0,1067.6 1370.4,1069.5 1370.8,1069.2 1371.2,1072.8 1371.6,1073.2 1372.0,1074.4 1372.4,1069.2 1372.8,1072.0 1373.2,1066.7 1373.6,1071.4 1374.0,1071.8 1374.4,1067.5 1374.8,1061.3 1375.2,1066.8 1375.6,1078.0 1376.0,1069.2 1376.4,1066.9 1376.8,1070.2 1377.2,1074.7 1377.6,1071.3 1378.0,1069.0 1378.4,1064.4 1378.8,1068.8 1379.2,1065.0 1379.6,1071.9 1380.0,1077.1 1380.4,1075.3 1380.8,1068.2 1381.2,1066.6 1381.6,1064.9 1382.0,1073.1 1382.4,1073.7 1382.8,1074.8 1383.2,1072.9 1383.6,1066.2 1384.0,1063.3 1384.4,1076.5 1384.8,1068.0 1385.2,1080.1 1385.6,1063.5 1386.0,1067.0 1386.4,1067.8 1386.8,1073.1 1387.2,1074.9 1387.6,1069.6 1388.0,1074.7 1388.4,1066.4 1388.8,1070.0 1389.2,1066.9 1389.6,1069.8 1390.0,1069.5 1390.4,1073.8 1390.8,1080.9 1391.2,1066.6 1391.6,1071.8 1392.0,1075.7 1392.4,1073.1 1392.8,1079.1 1393.2,1068.4 1393.6,1076.4 1394.0,1069.6 1394.4,1076.7 1394.8,1073.9 1395.2,1074.3 1395.6,1070.6 1396.0,1065.1 1396.4,1068.4 1396.8,1076.3 1397.2,1072.0 1397.6,1076.4 1398.0,1067.3 1398.4,1075.9 1398.8,1077.5 1399.2,1064.7 1399.6,1074.4 1400.0,1081.3 1400.4,1069.5 1400.8,1077.1 1401.2,1072.8 1401.6,1076.3 1402.0,1070.8 1402.4,1069.0 1402.8,1070.5 1403.2,1070.7 1403.6,1069.6 1404.0,1068.2 1404.4,1076.9 1404.8,1069.4 1405.2,1066.6 1405.6,1067.7 1406.0,1074.0 1406.4,1063.5 1406.8,1073.9 1407.2,1074.8 1407.6,1077.3 1408.0,1069.7 1408.4,1068.0 1408.8,1072.4 1409.2,1072.3 1409.6,1077.5 1410.0,1071.9 1410.4,1069.9 1410.8,1065.9 1411.2,1070.9 1411.6,1072.2 1412.0,1077.1 1412.4,1072.5 1412.8,1078.0 1413.2,1077.6 1413.6,1068.8 1414.0,1067.3 1414.4,1069.5 1414.8,1071.4 1415.2,1068.9 1415.6,1075.6 1416.0,1075.5 1416.4,1077.9 1416.8,1073.8 1417.2,1070.7 1417.6,1074.5 1418.0,1068.7 1418.4,1073.4 1418.8,1069.4 1419.2,1077.9 1419.6,1064.5 1420.0,1076.6 1420.4,1076.8 1420.8,1072.8 1421.2,1074.5 1421.6,1074.0 1422.0,1078.9 1422.4,1080.6 1422.8,1073.4 1423.2,1080.7 1423.6,1070.8 1424.0,1075.5 1424.4,1075.7 1424.8,1068.4 1425.2,1075.5 1425.6,1071.2 1426.0,1077.7 1426.4,1070.4 1426.8,1066.6 1427.2,1068.8 1427.6,1074.6 1428.0,1076.0 1428.4,1076.2 1428.8,1071.4 1429.2,1078.3 1429.6,1072.4 1430.0,1073.9 1430.4,1079.3 1430.8,1074.3 1431.2,1066.8 1431.6,1078.2 1432.0,1075.2 1432.4,1073.5 1432.8,1081.0 1433.2,1072.6 1433.6,1078.3 1434.0,1076.1 1434.4,1084.0 1434.8,1067.8 1435.2,1076.7 1435.6,1077.5 1436.0,1081.0 1436.4,1074.4 1436.8,1073.6 1437.2,1082.6 1437.6,1074.8 1438.0,1078.0 1438.4,1076.7 1438.8,1078.7 1439.2,1071.2 1439.6,1074.8 1440.0,1077.1 1440.4,1077.9 1440.8,1082.3 1441.2,1079.8 1441.6,1080.2 1442.0,1077.5 1442.4,1083.4 1442.8,1075.3 1443.2,1077.6 1443.6,1071.6 1444.0,1073.6 1444.4,1082.1 1444.8,1078.3 1445.2,1070.4 1445.6,1078.5 1446.0,1077.8 1446.4,1073.9 1446.8,1080.5 1447.2,1077.9 1447.6,1079.3 1448.0,1083.4 1448.4,1076.7 1448.8,1084.2 1449.2,1078.3 1449.6,1078.4 1450.0,1085.2 1450.4,1081.3 1450.8,1077.8 1451.2,1079.1 1451.6,1080.6 1452.0,1073.3 1452.4,1082.6 1452.8,1079.6 1453.2,1073.9 1453.6,1075.5 1454.0,1083.4 1454.4,1074.0 1454.8,1087.9 1455.2,1074.8 1455.6,1080.4 1456.0,1071.1 1456.4,1079.1 1456.8,1077.0 1457.2,1081.4 1457.6,1080.0 1458.0,1077.7 1458.4,1087.5 1458.8,1082.4 1459.2,1075.7 1459.6,1080.4 1460.0,1070.6 1460.4,1076.2 1460.8,1084.2 1461.2,1076.3 1461.6,1079.3 1462.0,1073.6 1462.4,1082.1 1462.8,1079.2 1463.2,1078.7 1463.6,1082.8 1464.0,1086.0 1464.4,1082.3 1464.8,1071.2 1465.2,1080.6 1465.6,1080.0 1466.0,1073.9 1466.4,1071.8 1466.8,1077.1 1467.2,1077.6 1467.6,1078.6 1468.0,1075.7 1468.4,1079.6 1468.8,1080.2 1469.2,1077.6 1469.6,1080.5 1470.0,1076.1 1470.4,1071.8 1470.8,1078.6 1471.2,1082.4 1471.6,1087.1 1472.0,1070.3 1472.4,1076.0 1472.8,1074.3 1473.2,1079.2 1473.6,1074.1 1474.0,1078.4 1474.4,1082.1 1474.8,1074.3 1475.2,1077.1 1475.6,1084.4 1476.0,1081.1 1476.4,1069.9 1476.8,1085.5 1477.2,1073.8 1477.6,1078.0 1478.0,1074.7 1478.4,1074.5 1478.8,1073.3 1479.2,1079.0 1479.6,1072.8 1480.0,1070.6 1480.4,1073.6 1480.8,1076.1 1481.2,1067.9 1481.6,1079.5 1482.0,1072.9 1482.4,1079.3 1482.8,1082.2 1483.2,1077.5 1483.6,1078.6 1484.0,1074.3 1484.4,1073.4 1484.8,1068.3 1485.2,1075.6 1485.6,1074.1 1486.0,1068.5 1486.4,1077.9 1486.8,1083.4 1487.2,1078.5 1487.6,1081.9 1488.0,1075.6 1488.4,1072.3 1488.8,1077.1 1489.2,1075.3 1489.6,1071.8 1490.0,1081.3 1490.4,1077.4 1490.8,1073.8 1491.2,1077.5 1491.6,1075.9 1492.0,1079.2 1492.4,1083.4 1492.8,1073.6 1493.2,1071.0 1493.6,1082.3 1494.0,1084.7 1494.4,1073.4 1494.8,1072.0 1495.2,1070.7 1495.6,1075.8 1496.0,1076.3 1496.4,1074.6 1496.8,1079.4 1497.2,1072.0 1497.6,1073.0 1498.0,1070.0 1498.4,1081.5 1498.8,1080.1 1499.2,1081.0 1499.6,1071.5 1500.0,1081.0 1500.4,1076.4 1500.8,1078.2 1501.2,1077.5 1501.6,1073.4 1502.0,1074.0 1502.4,1067.9 1502.8,1072.1 1503.2,1073.4 1503.6,1069.2 1504.0,1074.6 1504.4,1079.7 1504.8,1071.8 1505.2,1069.6 1505.6,1070.0 1506.0,1074.5 1506.4,1081.2 1506.8,1074.2 1507.2,1073.6 1507.6,1067.8 1508.0,1074.7 1508.4,1075.9 1508.8,1071.3 1509.2,1073.0 1509.6,1070.1 1510.0,1076.2 1510.4,1078.8 1510.8,1074.6 1511.2,1075.2 1511.6,1073.1 1512.0,1070.1 1512.4,1069.5 1512.8,1071.1 1513.2,1073.3 1513.6,1072.8 1514.0,1077.2 1514.4,1076.0 1514.8,1079.3 1515.2,1076.1 1515.6,1071.6 1516.0,1073.1 1516.4,1065.5 1516.8,1079.9 1517.2,1070.0 1517.6,1070.8 1518.0,1080.5 1518.4,1067.8 1518.8,1069.7 1519.2,1072.1 1519.6,1069.8 1520.0,1072.6 1520.4,1073.2 1520.8,1074.9 1521.2,1071.5 1521.6,1075.0 1522.0,1070.4 1522.4,1074.4 1522.8,1076.8 1523.2,1064.0 1523.6,1070.5 1524.0,1072.2 1524.4,1063.0 1524.8,1062.9 1525.2,1072.5 1525.6,1068.2 1526.0,1074.4 1526.4,1070.9 1526.8,1070.8 1527.2,1069.2 1527.6,1071.2 1528.0,1066.7 1528.4,1068.4 1528.8,1074.0 1529.2,1069.5 1529.6,1072.8 1530.0,1070.5 1530.4,1069.1 1530.8,1066.3 1531.2,1074.2 1531.6,1066.9 1532.0,1072.2 1532.4,1063.8 1532.8,1071.8 1533.2,1072.3 1533.6,1067.9 1534.0,1063.7 1534.4,1070.1 1534.8,1071.3 1535.2,1068.6 1535.6,1068.0 1536.0,1075.1 1536.4,1070.7 1536.8,1069.4 1537.2,1075.0 1537.6,1071.4 1538.0,1068.5 1538.4,1075.5 1538.8,1070.2 1539.2,1075.9 1539.6,1069.0 1540.0,1073.4 1540.4,1077.5 1540.8,1074.2 1541.2,1074.4 1541.6,1074.2 1542.0,1076.1 1542.4,1072.7 1542.8,1074.3 1543.2,1071.3 1543.6,1080.7 1544.0,1068.5 1544.4,1075.8 1544.8,1067.9 1545.2,1074.5 1545.6,1077.8 1546.0,1067.2 1546.4,1079.6 1546.8,1067.7 1547.2,1068.2 1547.6,1073.1 1548.0,1066.8 1548.4,1075.7 1548.8,1073.5 1549.2,1062.9 1549.6,1065.0 1550.0,1067.9 1550.4,1072.8 1550.8,1066.2 1551.2,1067.6 1551.6,1073.3 1552.0,1066.2 1552.4,1071.7 1552.8,1064.4 1553.2,1074.7 1553.6,1076.4 1554.0,1065.2 1554.4,1061.9 1554.8,1062.8 1555.2,1074.3 1555.6,1067.6 1556.0,1074.7 1556.4,1064.3 1556.8,1066.1 1557.2,1069.7 1557.6,1074.9 1558.0,1069.4 1558.4,1065.9 1558.8,1071.8 1559.2,1071.0 1559.6,1072.9 1560.0,1070.0 1560.4,1068.2 1560.8,1071.1 1561.2,1062.9 1561.6,1072.5 1562.0,1076.8 1562.4,1073.9 1562.8,1067.5 1563.2,1065.1 1563.6,1077.6 1564.0,1069.7 1564.4,1071.1 1564.8,1073.0 1565.2,1069.5 1565.6,1072.3 1566.0,1078.7 1566.4,1070.0 1566.8,1080.5 1567.2,1073.8 1567.6,1073.5 1568.0,1076.1 1568.4,1075.9 1568.8,1076.4 1569.2,1074.2 1569.6,1069.1 1570.0,1078.6 1570.4,1070.7 1570.8,1067.6 1571.2,1075.0 1571.6,1073.8 1572.0,1070.7 1572.4,1071.1 1572.8,1073.2 1573.2,1078.9 1573.6,1070.1 1574.0,1064.9 1574.4,1067.8 1574.8,1072.4 1575.2,1069.3 1575.6,1067.3 1576.0,1073.3 1576.4,1073.3 1576.8,1069.2 1577.2,1071.4 1577.6,1067.4 1578.0,1067.5 1578.4,1068.7 1578.8,1064.2 1579.2,1071.6 1579.6,1069.8 1580.0,1068.0 1580.4,1070.6 1580.8,1070.7 1581.2,1066.9 1581.6,1067.6 1582.0,1066.7 1582.4,1076.0 1582.8,1062.8 1583.2,1069.8 1583.6,1073.7 1584.0,1065.4 1584.4,1065.9 1584.8,1065.8 1585.2,1062.2 1585.6,1075.2 1586.0,1069.0 1586.4,1065.2 1586.8,1067.2 1587.2,1070.7 1587.6,1068.5 1588.0,1066.0 1588.4,1072.1 1588.8,1066.0 1589.2,1068.1 1589.6,1070.6 1590.0,1066.7 1590.4,1070.2 1590.8,1067.0 1591.2,1078.9 1591.6,1068.0 1592.0,1072.8 1592.4,1066.1 1592.8,1064.9 1593.2,1069.2 1593.6,1068.3 1594.0,1068.3 1594.4,1069.6 1594.8,1073.6 1595.2,1078.0 1595.6,1078.5 1596.0,1069.9 1596.4,1077.6 1596.8,1077.0 1597.2,1066.9 1597.6,1067.4 1598.0,1069.1 1598.4,1078.0 1598.8,1068.8 1599.2,1068.4 1599.6,1075.4 1600.0,1068.6 1600.4,1068.6 1600.8,1071.9 1601.2,1070.0 1601.6,1061.8 1602.0,1063.8 1602.4,1072.3 1602.8,1062.9 1603.2,1074.5 1603.6,1068.8 1604.0,1070.2 1604.4,1070.3 1604.8,1061.7 1605.2,1065.9 1605.6,1064.4 1606.0,1070.0 1606.4,1075.6 1606.8,1067.9 1607.2,1069.2 1607.6,1061.5 1608.0,1067.2 1608.4,1067.8 1608.8,1068.0 1609.2,1071.4 1609.6,1074.9 1610.0,1068.7 1610.4,1070.5 1610.8,1062.0 1611.2,1071.5 1611.6,1069.0 1612.0,1061.5 1612.4,1070.4 1612.8,1066.1 1613.2,1073.5 1613.6,1071.1 1614.0,1069.6 1614.4,1076.7 1614.8,1068.6 1615.2,1068.1 1615.6,1069.6 1616.0,1070.0 1616.4,1065.9 1616.8,1072.1 1617.2,1071.5 1617.6,1067.4 1618.0,1062.9 1618.4,1074.9 1618.8,1075.4 1619.2,1073.6 1619.6,1073.9 1620.0,1077.4 1620.4,1071.0 1620.8,1076.6 1621.2,1068.7 1621.6,1065.5 1622.0,1069.3 1622.4,1067.7 1622.8,1071.1 1623.2,1076.8 1623.6,1070.6 1624.0,1073.3 1624.4,1077.4 1624.8,1076.4 1625.2,1068.9 1625.6,1065.5 1626.0,1077.1 1626.4,1063.6 1626.8,1060.3 1627.2,1060.3 1627.6,1073.4 1628.0,1061.9 1628.4,1067.2 1628.8,1067.8 1629.2,1074.1 1629.6,1062.5 1630.0,1068.8 1630.4,1069.9 1630.8,1074.9 1631.2,1067.7 1631.6,1070.0 1632.0,1067.7 1632.4,1073.8 1632.8,1073.2 1633.2,1067.5 1633.6,1071.6 1634.0,1062.8 1634.4,1069.7 1634.8,1065.5 1635.2,1067.6 1635.6,1073.9 1636.0,1078.1 1636.4,1070.5 1636.8,1069.0 1637.2,1068.1 1637.6,1072.9 1638.0,1068.8 1638.4,1073.9 1638.8,1076.3 1639.2,1072.3 1639.6,1067.9 1640.0,1072.9 1640.4,1066.5 1640.8,1061.8 1641.2,1074.5 1641.6,1077.9 1642.0,1075.3 1642.4,1067.9 1642.8,1061.3 1643.2,1066.2 1643.6,1072.1 1644.0,1067.7 1644.4,1075.5 1644.8,1065.8 1645.2,1071.5 1645.6,1070.3 1646.0,1070.5 1646.4,1063.2 1646.8,1068.9 1647.2,1070.5 1647.6,1067.6 1648.0,1063.6 1648.4,1067.3 1648.8,1065.2 1649.2,1070.9 1649.6,1073.7 1650.0,1070.9 1650.4,1071.1 1650.8,1068.7 1651.2,1070.3 1651.6,1061.4 1652.0,1069.8 1652.4,1073.3 1652.8,1067.1 1653.2,1072.5 1653.6,1062.8 1654.0,1069.6 1654.4,1068.5 1654.8,1071.4 1655.2,1069.9 1655.6,1077.9 1656.0,1061.2 1656.4,1062.8 1656.8,1066.2 1657.2,1069.5 1657.6,1066.2 1658.0,1066.0 1658.4,1062.0 1658.8,1062.9 1659.2,1065.0 1659.6,1075.5 1660.0,1065.1 1660.4,1077.4 1660.8,1073.3 1661.2,1067.3 1661.6,1072.2 1662.0,1073.1 1662.4,1063.3 1662.8,1061.4 1663.2,1075.1 1663.6,1064.5 1664.0,1072.6 1664.4,1071.8 1664.8,1061.5 1665.2,1071.8 1665.6,1071.5 1666.0,1074.7 1666.4,1069.0 1666.8,1071.2 1667.2,1071.0 1667.6,1068.4 1668.0,1076.7 1668.4,1073.8 1668.8,1076.4 1669.2,1071.3 1669.6,1074.9 1670.0,1065.6 1670.4,1067.1 1670.8,1074.3 1671.2,1068.9 1671.6,1068.2 1672.0,1070.7 1672.4,1063.0 1672.8,1070.8 1673.2,1072.2 1673.6,1068.7 1674.0,1065.1 1674.4,1077.9 1674.8,1072.0 1675.2,1065.6 1675.6,1067.6 1676.0,1063.0 1676.4,1062.5 1676.8,1062.2 1677.2,1066.6 1677.6,1072.1 1678.0,1073.6 1678.4,1069.8 1678.8,1074.9 1679.2,1072.9 1679.6,1065.4 1680.0,1066.8 1680.4,1071.8 1680.8,1073.6 1681.2,1075.4 1681.6,1064.6 1682.0,1062.7 1682.4,1079.5 1682.8,1069.6 1683.2,1075.3 1683.6,1071.1 1684.0,1064.9 1684.4,1077.2 1684.8,1073.1 1685.2,1077.6 1685.6,1073.7 1686.0,1066.6 1686.4,1070.8 1686.8,1075.3 1687.2,1067.8 1687.6,1071.6 1688.0,1075.8 1688.4,1065.1 1688.8,1068.8 1689.2,1071.1 1689.6,1074.5 1690.0,1069.7 1690.4,1066.8 1690.8,1072.4 1691.2,1067.1 1691.6,1071.5 1692.0,1071.1 1692.4,1068.6 1692.8,1073.2 1693.2,1074.6 1693.6,1063.5 1694.0,1071.6 1694.4,1068.5 1694.8,1067.9 1695.2,1069.7 1695.6,1074.5 1696.0,1068.7 1696.4,1068.0 1696.8,1063.9 1697.2,1068.8 1697.6,1069.6 1698.0,1065.4 1698.4,1068.3 1698.8,1071.8 1699.2,1075.9 1699.6,1068.6 1700.0,1078.3 1700.4,1074.4 1700.8,1073.8 1701.2,1072.7 1701.6,1070.5 1702.0,1067.3 1702.4,1069.8 1702.8,1070.4 1703.2,1070.9 1703.6,1076.9 1704.0,1078.4 1704.4,1072.5 1704.8,1074.6 1705.2,1067.1 1705.6,1061.6 1706.0,1069.7 1706.4,1071.2 1706.8,1076.2 1707.2,1078.2 1707.6,1071.2 1708.0,1075.8 1708.4,1074.9 1708.8,1070.9 1709.2,1073.6 1709.6,1071.6 1710.0,1076.8 1710.4,1065.3 1710.8,1061.3 1711.2,1070.5 1711.6,1074.0 1712.0,1074.6 1712.4,1067.5 1712.8,1072.4 1713.2,1067.1 1713.6,1073.0 1714.0,1066.8 1714.4,1065.4 1714.8,1074.3 1715.2,1064.6 1715.6,1063.7 1716.0,1073.6 1716.4,1070.6 1716.8,1061.5 1717.2,1075.3 1717.6,1064.7 1718.0,1068.1 1718.4,1069.5 1718.8,1078.1 1719.2,1069.8 1719.6,1073.8 1720.0,1069.1 1720.4,1071.9 1720.8,1063.3 1721.2,1069.4 1721.6,1066.6 1722.0,1064.7 1722.4,1070.4 1722.8,1073.5 1723.2,1071.0 1723.6,1067.4 1724.0,1071.9 1724.4,1063.7 1724.8,1070.0 1725.2,1070.8 1725.6,1068.1 1726.0,1067.4 1726.4,1069.0 1726.8,1066.0 1727.2,1067.6 1727.6,1071.8 1728.0,1060.2 1728.4,1074.2 1728.8,1070.8 1729.2,1069.9 1729.6,1064.6 1730.0,1067.4 1730.4,1066.7 1730.8,1072.4 1731.2,1072.4 1731.6,1074.8 1732.0,1070.1 1732.4,1061.4 1732.8,1065.9 1733.2,1068.6 1733.6,1071.8 1734.0,1063.8 1734.4,1069.6 1734.8,1070.9 1735.2,1068.0 1735.6,1069.9 1736.0,1078.9 1736.4,1070.6 1736.8,1078.9 1737.2,1071.8 1737.6,1067.6 1738.0,1073.0 1738.4,1068.8 1738.8,1070.2 1739.2,1061.9 1739.6,1071.8 1740.0,1067.6 1740.4,1075.0 1740.8,1070.3 1741.2,1068.0 1741.6,1065.0 1742.0,1069.5 1742.4,1067.6 1742.8,1065.7 1743.2,1077.1 1743.6,1068.1 1744.0,1072.5 1744.4,1074.8 1744.8,1070.1 1745.2,1070.9 1745.6,1070.3 1746.0,1072.1 1746.4,1070.4 1746.8,1070.0 1747.2,1068.4 1747.6,1065.6 1748.0,1065.8 1748.4,1064.9 1748.8,1068.5 1749.2,1073.4 1749.6,1063.6 1750.0,1065.1 1750.4,1063.5 1750.8,1067.6 1751.2,1072.4 1751.6,1066.5 1752.0,1069.4 1752.4,1059.8 1752.8,1067.5 1753.2,1070.4 1753.6,1065.6 1754.0,1061.3 1754.4,1070.4 1754.8,1068.0 1755.2,1076.4 1755.6,1066.0 1756.0,1067.9 1756.4,1067.0 1756.8,1069.1 1757.2,1060.7 1757.6,1074.6 1758.0,1071.4 1758.4,1067.6 1758.8,1067.1 1759.2,1070.9 1759.6,1070.2 1760.0,1066.8 1760.4,1067.9 1760.8,1070.2 1761.2,1066.9 1761.6,1067.3 1762.0,1067.0 1762.4,1067.3 1762.8,1063.3 1763.2,1064.9 1763.6,1070.7 1764.0,1072.6 1764.4,1069.1 1764.8,1061.0 1765.2,1063.0 1765.6,1071.3 1766.0,1077.0 1766.4,1074.9 1766.8,1068.9 1767.2,1068.3 1767.6,1068.0 1768.0,1077.4 1768.4,1070.9 1768.8,1065.9 1769.2,1074.1 1769.6,1073.5 1770.0,1061.5 1770.4,1067.1 1770.8,1074.2 1771.2,1073.7 1771.6,1064.3 1772.0,1069.6 1772.4,1073.3 1772.8,1070.9 1773.2,1064.7 1773.6,1068.4 1774.0,1072.0 1774.4,1071.1 1774.8,1064.7 1775.2,1077.0 1775.6,1069.6 1776.0,1062.0 1776.4,1067.0 1776.8,1059.9 1777.2,1065.2 1777.6,1067.9 1778.0,1076.3 1778.4,1068.8 1778.8,1069.5 1779.2,1071.1 1779.6,1068.7 1780.0,1065.1 1780.4,1073.6 1780.8,1069.9 1781.2,1074.3 1781.6,1072.1 1782.0,1063.6 1782.4,1065.6 1782.8,1065.9 1783.2,1066.0 1783.6,1069.6 1784.0,1066.9 1784.4,1064.3 1784.8,1074.1 1785.2,1073.6 1785.6,1067.9 1786.0,1063.2 1786.4,1065.1 1786.8,1064.6 1787.2,1064.0 1787.6,1063.7 1788.0,1069.0 1788.4,1069.2 1788.8,1069.8 1789.2,1064.0 1789.6,1069.3 1790.0,1076.2 1790.4,1069.1 1790.8,1066.4 1791.2,1076.3 1791.6,1069.5 1792.0,1065.5 1792.4,1072.1 1792.8,1065.3 1793.2,1066.8 1793.6,1072.8 1794.0,1065.9 1794.4,1062.2 1794.8,1071.7 1795.2,1072.4 1795.6,1062.9 1796.0,1067.4 1796.4,1073.7 1796.8,1070.1 1797.2,1072.7 1797.6,1068.7 1798.0,1066.5 1798.4,1066.8 1798.8,1067.9 1799.2,1070.0 1799.6,1060.6 1800.0,1060.9 1800.4,1069.2 1800.8,1072.0 1801.2,1066.2 1801.6,1069.0 1802.0,1064.2 1802.4,1062.8 1802.8,1069.4 1803.2,1068.3 1803.6,1066.3 1804.0,1062.8 1804.4,1068.7 1804.8,1068.0 1805.2,1067.1 1805.6,1067.6 1806.0,1066.5 1806.4,1070.3 1806.8,1069.7 1807.2,1075.7 1807.6,1074.0 1808.0,1067.8 1808.4,1062.7 1808.8,1070.6 1809.2,1065.3 1809.6,1074.4 1810.0,1061.5 1810.4,1066.0 1810.8,1074.4 1811.2,1067.8 1811.6,1070.9 1812.0,1070.5 1812.4,1065.6 1812.8,1071.2 1813.2,1063.8 1813.6,1066.1 1814.0,1075.6 1814.4,1066.6 1814.8,1068.9 1815.2,1062.6 1815.6,1072.9 1816.0,1063.1 1816.4,1063.8 1816.8,1064.4 1817.2,1062.8 1817.6,1060.7 1818.0,1065.5 1818.4,1064.6 1818.8,1066.1 1819.2,1062.3 1819.6,1062.6 1820.0,1065.0 1820.4,1066.3 1820.8,1062.3 1821.2,1066.0 1821.6,1065.1 1822.0,1070.6 1822.4,1068.7 1822.8,1068.1 1823.2,1070.3 1823.6,1063.3 1824.0,1071.8 1824.4,1066.8 1824.8,1063.9 1825.2,1067.8 1825.6,1061.5 1826.0,1073.7 1826.4,1067.2 1826.8,1059.8 1827.2,1061.4 1827.6,1064.1 1828.0,1063.9 1828.4,1068.3 1828.8,1070.2 1829.2,1070.8 1829.6,1068.7 1830.0,1062.4 1830.4,1071.2 1830.8,1071.7 1831.2,1058.1 1831.6,1063.9 1832.0,1064.8 1832.4,1063.0 1832.8,1070.7 1833.2,1068.1 1833.6,1066.4 1834.0,1060.8 1834.4,1057.6 1834.8,1061.9 1835.2,1062.3 1835.6,1061.9 1836.0,1057.3 1836.4,1059.1 1836.8,1063.7 1837.2,1067.0 1837.6,1063.2 1838.0,1064.5 1838.4,1065.1 1838.8,1065.1 1839.2,1070.5 1839.6,1062.0 1840.0,1066.2 1840.4,1059.7 1840.8,1070.4 1841.2,1068.5 1841.6,1069.7 1842.0,1065.9 1842.4,1064.9 1842.8,1060.0 1843.2,1066.8 1843.6,1071.3 1844.0,1057.2 1844.4,1073.0 1844.8,1062.0 1845.2,1067.5 1845.6,1061.9 1846.0,1064.7 1846.4,1068.8 1846.8,1064.4 1847.2,1072.9 1847.6,1065.2 1848.0,1067.8 1848.4,1062.3 1848.8,1062.7 1849.2,1063.1 1849.6,1066.9 1850.0,1071.8 1850.4,1064.8 1850.8,1059.1 1851.2,1062.0 1851.6,1058.7 1852.0,1066.7 1852.4,1064.8 1852.8,1060.1 1853.2,1063.3 1853.6,1069.0 1854.0,1067.0 1854.4,1062.7 1854.8,1068.5 1855.2,1067.1 1855.6,1063.2 1856.0,1066.5 1856.4,1073.9 1856.8,1061.2 1857.2,1070.4 1857.6,1065.5 1858.0,1068.9 1858.4,1068.0 1858.8,1067.5 1859.2,1065.6 1859.6,1064.8" fill="none" stroke="#0000ff" stroke-width="9.3" stroke-linecap="round" stroke-linejoin="round"/>
<path d="M384.4,880.3L384.4,926.7M465.6,975.9L465.6,957.8M1022.5,1076.0L1022.5,1108.8M1059.5,1075.0L1059.5,1093.4M1155.5,1074.1L1155.5,1045.1M1316.9,1072.3L1316.9,1054.2M1597.4,1070.5L1597.4,1058.5M1614.6,1070.2L1614.6,1090.7M1661.5,1069.7L1661.5,1095.5M1696.6,1070.8L1696.6,1056.4" fill="none" stroke="#0000ff" stroke-width="8.6" stroke-linecap="round"/>
<path d="M306.4,510.5 307.0,514.6 307.6,521.7 308.2,523.6 308.8,521.7 309.4,525.1 310.0,532.2 310.6,533.1 311.2,538.9 311.8,542.3 312.4,545.2 313.0,551.3 313.6,552.5 314.2,555.5 314.8,557.6 315.4,564.1 316.0,565.1 316.6,564.5 317.2,569.5 317.8,570.0 318.4,573.8 319.0,576.7 319.6,577.2 320.2,579.0 320.8,582.7 321.4,588.3 322.0,585.8 322.6,593.5 323.2,591.4 323.8,596.2 324.4,599.0 325.0,603.4 325.6,604.3 326.2,604.5 326.8,607.2 327.4,610.4 328.0,613.5 328.6,613.8 329.2,614.6 329.8,615.8 330.4,620.1 331.0,617.4 331.6,619.2 332.2,621.8 332.8,624.6 333.4,620.9 334.0,626.7 334.6,628.5 335.2,628.5 335.8,626.5 336.4,630.0 337.0,632.6 337.6,634.9 338.2,634.0 338.8,637.2 339.4,640.2 340.0,639.6 340.6,641.3 341.2,642.3 341.8,641.9 342.4,644.8 343.0,646.1 343.6,648.8 344.2,647.5 344.8,647.9 345.4,650.4 346.0,651.0 346.6,654.6 347.2,654.1 347.8,653.7 348.4,658.3 349.0,658.4 349.6,660.0 350.2,661.5 350.8,663.8 351.4,661.9 352.0,665.6 352.6,666.1 353.2,667.4 353.8,668.6 354.4,669.4 355.0,671.9 355.6,672.9 356.2,675.3 356.8,677.9 357.4,675.2 358.0,681.1 358.6,680.9 359.2,678.6 359.8,681.4 360.4,682.8 361.0,685.9 361.6,683.8 362.2,689.1 362.8,686.0 363.4,688.2 364.0,688.9 364.6,689.0 365.2,690.1 365.8,691.8 366.4,693.1 367.0,693.4 367.6,693.7 368.2,692.2 368.8,696.2 369.4,700.3 370.0,700.7 370.6,700.6 371.2,699.0 371.8,701.1 372.4,700.3 373.0,701.2 373.6,703.0 374.2,705.2 374.8,703.9 375.4,704.6 376.0,706.5 376.6,705.2 377.2,709.6 377.8,710.7 378.4,711.8 379.0,711.9 379.6,710.7 380.2,711.9 380.8,711.6 381.4,714.1 382.0,717.5 382.6,713.4 383.2,716.4 383.8,717.9 384.4,714.7 385.0,719.7 385.6,715.9 386.2,717.0 386.8,718.1 387.4,719.3 388.0,719.6 388.6,718.7 389.2,718.8 389.8,717.1 390.4,720.6 391.0,724.1 391.6,722.1 392.2,725.1 392.8,726.2 393.4,726.3 394.0,726.2 394.6,727.0 395.2,728.5 395.8,726.7 396.4,731.8 397.0,728.8 397.6,729.9 398.2,730.4 398.8,731.3 399.4,732.6 400.0,734.3 400.6,733.3 401.2,735.7 401.8,733.4 402.4,735.4 403.0,736.0 403.6,735.6 404.2,736.8 404.8,734.8 405.4,738.6 406.0,738.3 406.6,737.9 407.2,737.6 407.8,739.8 408.4,737.6 409.0,740.6 409.6,741.3 410.2,743.9 410.8,740.8 411.4,743.3 412.0,742.7 412.6,740.1 413.2,741.0 413.8,742.6 414.4,745.5 415.0,746.5 415.6,744.6 416.2,746.1 416.8,746.3 417.4,743.0 418.0,748.1 418.6,748.7 419.2,743.7 419.8,745.5 420.4,746.6 421.0,746.6 421.6,748.1 422.2,748.3 422.8,746.0 423.4,747.9 424.0,746.4 424.6,747.2 425.2,748.3 425.8,749.2 426.4,748.1 427.0,752.0 427.6,750.3 428.2,750.5 428.8,752.1 429.4,750.8 430.0,752.7 430.6,749.6 431.2,751.2 431.8,753.6 432.4,754.1 433.0,754.9 433.6,755.1 434.2,757.3 434.8,758.6 435.4,756.8 436.0,759.2 436.6,758.7 437.2,756.8 437.8,756.9 438.4,759.0 439.0,760.6 439.6,758.2 440.2,756.9 440.8,761.4 441.4,762.0 442.0,760.8 442.6,763.1 443.2,765.0 443.8,762.0 444.4,763.4 445.0,764.2 445.6,766.9 446.2,765.2 446.8,766.6 447.4,769.3 448.0,769.5 448.6,770.1 449.2,768.0 449.8,770.1 450.4,769.0 451.0,771.2 451.6,770.8 452.2,771.3 452.8,770.3 453.4,771.0 454.0,771.5 454.6,771.1 455.2,772.1 455.8,770.9 456.4,771.1 457.0,771.0 457.6,773.5 458.2,775.3 458.8,775.4 459.4,772.9 460.0,776.4 460.6,776.4 461.2,776.5 461.8,777.3 462.4,778.1 463.0,779.3 463.6,779.4 464.2,780.4 464.8,778.9 465.4,777.6 466.0,780.1 466.6,777.0 467.2,779.7 467.8,777.5 468.4,778.2 469.0,780.6 469.6,778.5 470.2,780.9 470.8,780.6 471.4,780.0 472.0,781.4 472.6,781.6 473.2,781.5 473.8,781.0 474.4,783.2 475.0,782.3 475.6,783.0 476.2,784.1 476.8,783.9 477.4,784.7 478.0,785.2 478.6,785.5 479.2,785.6 479.8,787.4 480.4,785.5 481.0,785.8 481.6,785.2 482.2,784.3 482.8,788.3 483.4,788.5 484.0,790.2 484.6,787.2 485.2,788.6 485.8,789.4 486.4,792.9 487.0,792.1 487.6,791.2 488.2,791.8 488.8,792.5 489.4,791.1 490.0,793.1 490.6,791.6 491.2,793.1 491.8,793.8 492.4,793.4 493.0,792.2 493.6,792.7 494.2,793.9 494.8,792.3 495.4,791.3 496.0,792.5 496.6,792.3 497.2,792.7 497.8,793.1 498.4,792.9 499.0,793.2 499.6,795.0 500.2,795.1 500.8,796.1 501.4,795.6 502.0,795.7 502.6,797.1 503.2,795.6 503.8,796.4 504.4,799.1 505.0,797.9 505.6,797.9 506.2,797.7 506.8,799.6 507.4,797.9 508.0,800.8 508.6,799.8 509.2,797.7 509.8,799.3 510.4,798.9 511.0,800.9 511.6,801.0 512.2,800.0 512.8,800.0 513.4,801.4 514.0,800.4 514.6,802.7 515.2,800.7 515.8,802.1 516.4,799.8 517.0,802.8 517.6,802.1 518.2,803.6 518.8,805.1 519.4,804.3 520.0,802.3 520.6,803.4 521.2,806.3 521.8,805.7 522.4,805.9 523.0,808.7 523.6,807.6 524.2,809.1 524.8,809.2 525.4,807.9 526.0,808.6 526.6,807.2 527.2,809.1 527.8,808.7 528.4,810.5 529.0,809.8 529.6,808.8 530.2,808.3 530.8,808.9 531.4,809.2 532.0,810.0 532.6,810.3 533.2,807.8 533.8,808.0 534.4,809.4 535.0,807.8 535.6,809.1 536.2,807.5 536.8,809.3 537.4,809.4 538.0,809.9 538.6,809.9 539.2,811.5 539.8,812.3 540.4,812.5 541.0,811.8 541.6,812.1 542.2,812.1 542.8,812.3 543.4,813.1 544.0,813.3 544.6,813.5 545.2,814.1 545.8,814.9 546.4,813.4 547.0,814.0 547.6,815.0 548.2,814.9 548.8,814.1 549.4,814.0 550.0,816.2 550.6,814.7 551.2,816.5 551.8,815.2 552.4,818.3 553.0,815.5 553.6,818.6 554.2,817.5 554.8,818.2 555.4,818.1 556.0,817.4 556.6,816.6 557.2,819.5 557.8,816.7 558.4,817.4 559.0,816.0 559.6,817.6 560.2,818.4 560.8,817.3 561.4,818.4 562.0,818.2 562.6,818.3 563.2,819.5 563.8,819.8 564.4,818.3 565.0,817.4 565.6,819.7 566.2,818.2 566.8,819.0 567.4,818.7 568.0,820.7 568.6,822.2 569.2,819.7 569.8,822.9 570.4,821.3 571.0,821.2 571.6,823.2 572.2,824.5 572.8,822.7 573.4,823.0 574.0,825.6 574.6,824.9 575.2,821.8 575.8,824.3 576.4,823.8 577.0,824.1 577.6,824.9 578.2,824.3 578.8,824.5 579.4,826.9 580.0,823.3 580.6,825.0 581.2,825.5 581.8,823.4 582.4,823.7 583.0,823.7 583.6,825.8 584.2,823.9 584.8,825.6 585.4,824.0 586.0,824.2 586.6,826.0 587.2,826.6 587.8,824.8 588.4,825.3 589.0,826.9 589.6,826.0 590.2,826.1 590.8,826.5 591.4,828.2 592.0,825.9 592.6,830.3 593.2,830.5 593.8,830.4 594.4,829.2 595.0,829.0 595.6,830.3 596.2,828.8 596.8,832.1 597.4,829.5 598.0,831.3 598.6,830.9 599.2,829.8 599.8,830.1 600.4,829.6 601.0,830.7 601.6,831.3 602.2,830.9 602.8,830.8 603.4,831.4 604.0,832.7 604.6,832.5 605.2,832.3 605.8,831.3 606.4,831.6 607.0,832.6 607.6,831.8 608.2,831.6 608.8,833.7 609.4,832.7 610.0,833.0 610.6,832.5 611.2,833.6 611.8,834.4 612.4,834.3 613.0,833.0 613.6,834.3 614.2,835.6 614.8,835.6 615.4,836.6 616.0,835.5 616.6,835.9 617.2,836.8 617.8,836.0 618.4,836.8 619.0,834.4 619.6,835.1 620.2,837.0 620.8,837.0 621.4,837.0 622.0,837.3 622.6,837.6 623.2,835.9 623.8,838.6 624.4,838.2 625.0,836.6 625.6,836.7 626.2,838.6 626.8,837.8 627.4,839.2 628.0,838.7 628.6,837.8 629.2,838.6 629.8,839.2 630.4,839.6 631.0,840.5 631.6,839.2 632.2,840.2 632.8,839.5 633.4,839.6 634.0,837.5 634.6,839.2 635.2,838.3 635.8,840.2 636.4,840.7 637.0,840.2 637.6,841.9 638.2,840.4 638.8,841.2 639.4,840.3 640.0,841.2 640.6,840.2 641.2,841.1 641.8,842.5 642.4,841.8 643.0,841.6 643.6,842.0 644.2,842.7 644.8,843.6 645.4,841.0 646.0,842.5 646.6,842.4 647.2,842.4 647.8,842.6 648.4,843.2 649.0,843.9 649.6,841.4 650.2,842.0 650.8,843.4 651.4,842.2 652.0,844.2 652.6,843.3 653.2,844.2 653.8,843.5 654.4,843.9 655.0,847.2 655.6,844.8 656.2,846.5 656.8,845.2 657.4,845.9 658.0,844.7 658.6,845.9 659.2,845.0 659.8,843.5 660.4,843.6 661.0,845.6 661.6,846.4 662.2,845.3 662.8,845.2 663.4,845.8 664.0,848.0 664.6,845.2 665.2,847.7 665.8,848.4 666.4,846.5 667.0,847.1 667.6,847.9 668.2,847.9 668.8,849.5 669.4,848.9 670.0,848.5 670.6,849.4 671.2,850.3 671.8,848.9 672.4,848.6 673.0,850.2 673.6,851.0 674.2,850.9 674.8,850.3 675.4,849.4 676.0,850.3 676.6,850.1 677.2,850.2 677.8,849.6 678.4,850.6 679.0,850.5 679.6,848.8 680.2,850.7 680.8,849.4 681.4,850.6 682.0,850.7 682.6,851.5 683.2,850.9 683.8,851.3 684.4,851.4 685.0,851.6 685.6,850.9 686.2,852.7 686.8,851.8 687.4,852.7 688.0,852.5 688.6,853.0 689.2,853.3 689.8,851.8 690.4,853.0 691.0,853.5 691.6,853.0 692.2,853.2 692.8,854.4 693.4,855.4 694.0,855.0 694.6,855.4 695.2,855.2 695.8,856.8 696.4,855.3 697.0,856.2 697.6,857.6 698.2,855.9 698.8,855.6 699.4,854.3 700.0,854.4 700.6,857.6 701.2,856.0 701.8,855.3 702.4,855.8 703.0,855.4 703.6,856.6 704.2,856.3 704.8,857.6 705.4,858.6 706.0,858.0 706.6,857.9 707.2,858.1 707.8,859.5 708.4,857.4 709.0,857.8 709.6,858.3 710.2,857.8 710.8,859.3 711.4,858.6 712.0,858.1 712.6,859.4 713.2,858.9 713.8,859.3 714.4,858.9 715.0,858.5 715.6,858.1 716.2,859.4 716.8,858.2 717.4,859.9 718.0,859.3 718.6,859.1 719.2,858.5 719.8,860.5 720.4,859.0 721.0,859.8 721.6,858.9 722.2,860.5 722.8,860.0 723.4,860.6 724.0,860.5 724.6,859.9 725.2,859.4 725.8,860.3 726.4,859.9 727.0,860.2 727.6,862.1 728.2,861.7 728.8,861.4 729.4,861.9 730.0,862.3 730.6,861.9 731.2,861.9 731.8,862.2 732.4,862.6 733.0,864.0 733.6,861.5 734.2,862.6 734.8,862.3 735.4,864.8 736.0,862.6 736.6,864.2 737.2,863.9 737.8,864.1 738.4,864.8 739.0,864.5 739.6,864.1 740.2,866.1 740.8,863.8 741.4,863.4 742.0,864.4 742.6,865.7 743.2,864.7 743.8,865.4 744.4,866.2 745.0,866.2 745.6,866.1 746.2,866.9 746.8,866.2 747.4,867.3 748.0,866.8 748.6,868.1 749.2,868.0 749.8,867.5 750.4,868.6 751.0,868.6 751.6,868.7 752.2,868.5 752.8,867.5 753.4,868.1 754.0,869.4 754.6,869.8 755.2,867.8 755.8,868.4 756.4,867.6 757.0,868.3 757.6,869.9 758.2,869.0 758.8,869.9 759.4,870.6 760.0,868.2 760.6,869.6 761.2,869.8 761.8,870.0 762.4,870.5 763.0,870.7 763.6,870.4 764.2,869.4 764.8,871.2 765.4,872.1 766.0,869.7 766.6,870.7 767.2,871.2 767.8,870.7 768.4,871.3 769.0,871.5 769.6,872.3 770.2,871.3 770.8,871.6 771.4,873.3 772.0,872.8 772.6,871.8 773.2,871.3 773.8,872.3 774.4,872.9 775.0,872.4 775.6,871.6 776.2,871.8 776.8,872.4 777.4,873.0 778.0,873.2 778.6,873.9 779.2,872.5 779.8,872.4 780.4,871.7 781.0,872.2 781.6,872.8 782.2,872.7 782.8,872.8 783.4,873.1 784.0,872.7 784.6,872.0 785.2,873.4 785.8,873.6 786.4,872.8 787.0,875.2 787.6,871.5 788.2,872.2 788.8,872.8 789.4,872.7 790.0,872.3 790.6,873.0 791.2,873.6 791.8,873.0 792.4,872.7 793.0,873.7 793.6,871.4 794.2,872.5 794.8,872.9 795.4,872.7 796.0,873.0 796.6,873.1 797.2,872.9 797.8,872.7 798.4,872.9 799.0,873.5 799.6,874.2 800.2,874.3 800.8,874.6 801.4,872.2 802.0,873.4 802.6,873.3 803.2,874.2 803.8,874.3 804.4,874.0 805.0,875.1 805.6,874.1 806.2,874.6 806.8,874.9 807.4,874.8 808.0,874.2 808.6,875.5 809.2,874.9 809.8,875.0 810.4,874.4 811.0,874.4 811.6,873.6 812.2,872.7 812.8,873.2 813.4,872.9 814.0,874.1 814.6,873.0 815.2,873.8 815.8,873.5 816.4,874.3 817.0,874.2 817.6,875.4 818.2,875.2 818.8,875.8 819.4,874.8 820.0,873.5 820.6,875.7 821.2,876.5 821.8,874.8 822.4,876.3 823.0,875.2 823.6,875.5 824.2,875.3 824.8,875.0 825.4,875.2 826.0,874.2 826.6,875.7 827.2,875.7 827.8,876.1 828.4,875.5 829.0,875.8 829.6,877.1 830.2,876.1 830.8,875.2 831.4,875.5 832.0,875.2 832.6,876.1 833.2,874.7 833.8,875.8 834.4,875.3 835.0,873.2 835.6,875.4 836.2,874.8 836.8,874.6 837.4,875.5 838.0,875.9 838.6,877.7 839.2,876.2 839.8,875.8 840.4,876.6 841.0,877.2 841.6,876.4 842.2,877.1 842.8,876.2 843.4,876.6 844.0,877.3 844.6,878.2 845.2,877.1 845.8,877.1 846.4,877.6 847.0,876.9 847.6,877.2 848.2,876.9 848.8,878.8 849.4,877.3 850.0,878.6 850.6,877.8 851.2,879.1 851.8,877.2 852.4,878.1 853.0,876.4 853.6,879.2 854.2,878.8 854.8,878.2 855.4,880.0 856.0,880.3 856.6,879.8 857.2,879.9 857.8,878.8 858.4,878.3 859.0,877.9 859.6,879.8 860.2,877.7 860.8,879.0 861.4,880.4 862.0,879.5 862.6,878.4 863.2,878.7 863.8,880.2 864.4,878.5 865.0,878.8 865.6,878.1 866.2,879.0 866.8,878.6 867.4,879.7 868.0,878.2 868.6,878.6 869.2,877.3 869.8,879.9 870.4,879.9 871.0,878.9 871.6,879.3 872.2,879.5 872.8,880.0 873.4,878.1 874.0,878.7 874.6,881.0 875.2,880.3 875.8,880.0 876.4,879.7 877.0,880.4 877.6,880.6 878.2,880.8 878.8,879.6 879.4,880.5 880.0,881.0 880.6,881.0 881.2,880.2 881.8,880.8 882.4,880.4 883.0,880.8 883.6,881.3 884.2,881.5 884.8,881.5 885.4,881.8 886.0,881.3 886.6,880.3 887.2,881.2 887.8,880.9 888.4,880.0 889.0,880.7 889.6,881.4 890.2,881.8 890.8,881.0 891.4,880.0 892.0,880.9 892.6,880.5 893.2,881.8 893.8,880.1 894.4,881.6 895.0,880.9 895.6,881.3 896.2,880.6 896.8,881.5 897.4,881.1 898.0,881.0 898.6,880.5 899.2,880.9 899.8,880.0 900.4,881.8 901.0,881.4 901.6,882.8 902.2,880.9 902.8,883.2 903.4,882.6 904.0,882.1 904.6,882.8 905.2,881.7 905.8,881.7 906.4,883.5 907.0,881.2 907.6,882.6 908.2,883.5 908.8,882.6 909.4,883.4 910.0,882.3 910.6,882.0 911.2,883.3 911.8,883.2 912.4,882.7 913.0,883.9 913.6,882.3 914.2,884.0 914.8,883.2 915.4,883.8 916.0,883.9 916.6,884.1 917.2,884.4 917.8,885.2 918.4,885.2 919.0,884.4 919.6,884.4 920.2,883.7 920.8,885.6 921.4,885.1 922.0,884.0 922.6,884.5 923.2,885.4 923.8,883.9 924.4,884.5 925.0,884.3 925.6,884.1 926.2,884.3 926.8,882.8 927.4,884.9 928.0,883.9 928.6,884.3 929.2,883.3 929.8,885.9 930.4,884.9 931.0,883.3 931.6,884.3 932.2,884.5 932.8,884.2 933.4,884.0 934.0,884.1 934.6,884.4 935.2,885.1 935.8,885.2 936.4,885.9 937.0,884.9 937.6,883.5 938.2,884.9 938.8,885.7 939.4,884.2 940.0,885.2 940.6,885.4 941.2,884.5 941.8,885.2 942.4,884.8 943.0,886.5 943.6,886.1 944.2,885.7 944.8,886.2 945.4,886.3 946.0,885.3 946.6,885.0 947.2,884.9 947.8,885.1 948.4,886.5 949.0,886.8 949.6,887.1 950.2,885.3 950.8,886.3 951.4,887.2 952.0,887.7 952.6,886.4 953.2,886.5 953.8,886.7 954.4,887.4 955.0,887.8 955.6,888.0 956.2,887.2 956.8,888.6 957.4,887.0 958.0,888.2 958.6,888.7 959.2,888.5 959.8,888.0 960.4,887.3 961.0,887.4 961.6,886.8 962.2,886.7 962.8,886.3 963.4,887.5 964.0,885.8 964.6,886.0 965.2,887.2 965.8,886.5 966.4,887.3 967.0,887.1 967.6,886.2 968.2,886.6 968.8,885.1 969.4,885.9 970.0,886.9 970.6,886.0 971.2,885.9 971.8,887.3 972.4,886.3 973.0,884.9 973.6,886.7 974.2,884.5 974.8,886.6 975.4,886.7 976.0,886.4 976.6,886.3 977.2,886.8 977.8,888.7 978.4,886.7 979.0,887.0 979.6,887.5 980.2,887.5 980.8,889.0 981.4,888.1 982.0,887.8 982.6,888.4 983.2,888.2 983.8,887.8 984.4,887.7 985.0,887.8 985.6,887.8 986.2,887.7 986.8,888.0 987.4,888.9 988.0,887.4 988.6,888.6 989.2,889.0 989.8,888.7 990.4,889.0 991.0,890.0 991.6,889.2 992.2,890.1 992.8,890.2 993.4,890.1 994.0,890.3 994.6,890.7 995.2,891.2 995.8,889.6 996.4,890.9 997.0,889.8 997.6,889.7 998.2,890.3 998.8,890.3 999.4,889.1 1000.0,891.3 1000.6,890.0 1001.2,890.7 1001.8,890.5 1002.4,890.5 1003.0,890.1 1003.6,890.0 1004.2,889.7 1004.8,889.2 1005.4,889.9 1006.0,889.1 1006.6,889.0 1007.2,888.3 1007.8,888.2 1008.4,888.7 1009.0,887.8 1009.6,889.7 1010.2,888.8 1010.8,889.0 1011.4,889.1 1012.0,889.7 1012.6,890.2 1013.2,890.5 1013.8,889.8 1014.4,889.7 1015.0,890.4 1015.6,890.6 1016.2,890.3 1016.8,891.6 1017.4,890.2 1018.0,890.4 1018.6,891.5 1019.2,890.7 1019.8,890.8 1020.4,890.3 1021.0,890.0 1021.6,890.2 1022.2,889.5 1022.8,891.0 1023.4,890.6 1024.0,891.5 1024.6,890.2 1025.2,889.9 1025.8,890.8 1026.4,889.9 1027.0,890.9 1027.6,890.0 1028.2,889.3 1028.8,890.4 1029.4,890.5 1030.0,891.2 1030.6,890.7 1031.2,891.3 1031.8,891.5 1032.4,890.9 1033.0,890.9 1033.6,891.2 1034.2,890.8 1034.8,892.0 1035.4,892.4 1036.0,891.9 1036.6,891.8 1037.2,891.5 1037.8,892.7 1038.4,893.0 1039.0,891.1 1039.6,893.7 1040.2,893.4 1040.8,892.1 1041.4,892.3 1042.0,892.4 1042.6,892.5 1043.2,892.1 1043.8,892.6 1044.4,892.7 1045.0,893.9 1045.6,892.4 1046.2,892.2 1046.8,893.3 1047.4,892.7 1048.0,892.9 1048.6,892.9 1049.2,892.7 1049.8,892.7 1050.4,892.7 1051.0,892.6 1051.6,892.8 1052.2,894.1 1052.8,893.0 1053.4,892.5 1054.0,892.4 1054.6,893.7 1055.2,892.6 1055.8,893.1 1056.4,891.9 1057.0,891.7 1057.6,893.2 1058.2,892.0 1058.8,893.2 1059.4,893.7 1060.0,892.7 1060.6,892.9 1061.2,893.0 1061.8,892.9 1062.4,893.2 1063.0,893.2 1063.6,893.4 1064.2,893.6 1064.8,894.0 1065.4,894.0 1066.0,893.8 1066.6,893.4 1067.2,894.2 1067.8,894.5 1068.4,894.2 1069.0,893.9 1069.6,895.4 1070.2,892.9 1070.8,894.6 1071.4,894.4 1072.0,895.2 1072.6,895.4 1073.2,894.7 1073.8,894.1 1074.4,894.7 1075.0,893.6 1075.6,894.3 1076.2,893.8 1076.8,894.4 1077.4,893.0 1078.0,893.7 1078.6,893.9 1079.2,893.5 1079.8,893.3 1080.4,893.0 1081.0,893.2 1081.6,894.1 1082.2,892.9 1082.8,892.5 1083.4,892.6 1084.0,893.0 1084.6,893.8 1085.2,893.3 1085.8,894.1 1086.4,894.6 1087.0,893.4 1087.6,894.2 1088.2,894.0 1088.8,894.9 1089.4,895.0 1090.0,894.8 1090.6,894.0 1091.2,894.6 1091.8,894.9 1092.4,895.0 1093.0,894.8 1093.6,895.4 1094.2,895.7 1094.8,895.8 1095.4,895.3 1096.0,895.6 1096.6,895.2 1097.2,895.6 1097.8,896.4 1098.4,895.9 1099.0,895.8 1099.6,896.5 1100.2,895.5 1100.8,895.7 1101.4,894.8 1102.0,896.1 1102.6,895.4 1103.2,896.0 1103.8,896.0 1104.4,895.5 1105.0,895.9 1105.6,894.8 1106.2,895.4 1106.8,894.6 1107.4,896.3 1108.0,896.1 1108.6,896.6 1109.2,896.6 1109.8,896.7 1110.4,895.6 1111.0,894.9 1111.6,895.6 1112.2,897.0 1112.8,896.2 1113.4,896.6 1114.0,896.4 1114.6,896.4 1115.2,895.9 1115.8,895.5 1116.4,896.7 1117.0,895.6 1117.6,897.1 1118.2,896.5 1118.8,896.5 1119.4,896.1 1120.0,895.2 1120.6,895.7 1121.2,896.8 1121.8,895.6 1122.4,895.8 1123.0,897.5 1123.6,895.5 1124.2,896.8 1124.8,897.2 1125.4,898.2 1126.0,897.8 1126.6,897.4 1127.2,896.1 1127.8,897.0 1128.4,896.1 1129.0,897.2 1129.6,896.1 1130.2,897.4 1130.8,897.2 1131.4,896.4 1132.0,896.9 1132.6,896.8 1133.2,896.7 1133.8,896.6 1134.4,897.0 1135.0,896.7 1135.6,896.4 1136.2,896.9 1136.8,896.3 1137.4,897.5 1138.0,897.4 1138.6,895.8 1139.2,896.9 1139.8,897.1 1140.4,897.2 1141.0,897.6 1141.6,898.1 1142.2,898.1 1142.8,896.1 1143.4,897.7 1144.0,896.1 1144.6,897.7 1145.2,897.3 1145.8,896.6 1146.4,896.7 1147.0,896.7 1147.6,897.8 1148.2,896.8 1148.8,896.9 1149.4,897.5 1150.0,898.3 1150.6,897.1 1151.2,897.6 1151.8,897.1 1152.4,898.2 1153.0,896.9 1153.6,897.8 1154.2,897.9 1154.8,897.5 1155.4,898.4 1156.0,898.9 1156.6,897.9 1157.2,898.2 1157.8,898.2 1158.4,898.9 1159.0,898.9 1159.6,898.6 1160.2,898.6 1160.8,898.3 1161.4,898.7 1162.0,898.9 1162.6,899.9 1163.2,899.4 1163.8,897.7 1164.4,898.6 1165.0,899.5 1165.6,899.4 1166.2,897.7 1166.8,898.6 1167.4,899.6 1168.0,898.3 1168.6,898.5 1169.2,898.9 1169.8,898.3 1170.4,899.5 1171.0,899.1 1171.6,899.1 1172.2,898.6 1172.8,899.6 1173.4,898.8 1174.0,898.5 1174.6,898.8 1175.2,898.1 1175.8,898.5 1176.4,900.2 1177.0,898.4 1177.6,898.3 1178.2,898.9 1178.8,899.1 1179.4,899.2 1180.0,899.1 1180.6,898.0 1181.2,898.7 1181.8,897.7 1182.4,899.3 1183.0,899.0 1183.6,899.2 1184.2,897.7 1184.8,897.3 1185.4,898.4 1186.0,897.8 1186.6,897.6 1187.2,897.8 1187.8,897.4 1188.4,897.3 1189.0,898.6 1189.6,898.7 1190.2,899.1 1190.8,899.0 1191.4,899.0 1192.0,899.3 1192.6,899.0 1193.2,899.4 1193.8,899.4 1194.4,898.3 1195.0,900.0 1195.6,900.9 1196.2,900.9 1196.8,899.9 1197.4,900.3 1198.0,900.2 1198.6,901.1 1199.2,901.0 1199.8,899.6 1200.4,899.5 1201.0,899.6 1201.6,899.4 1202.2,900.6 1202.8,898.5 1203.4,898.9 1204.0,898.7 1204.6,899.2 1205.2,899.9 1205.8,898.9 1206.4,900.0 1207.0,900.6 1207.6,899.8 1208.2,900.4 1208.8,899.7 1209.4,900.1 1210.0,899.8 1210.6,900.6 1211.2,900.3 1211.8,900.5 1212.4,900.8 1213.0,901.0 1213.6,900.1 1214.2,901.0 1214.8,900.6 1215.4,901.0 1216.0,901.5 1216.6,902.0 1217.2,901.8 1217.8,901.8 1218.4,902.8 1219.0,902.3 1219.6,900.8 1220.2,902.2 1220.8,901.6 1221.4,902.2 1222.0,902.1 1222.6,902.6 1223.2,901.3 1223.8,901.9 1224.4,901.3 1225.0,901.0 1225.6,900.5 1226.2,901.5 1226.8,902.2 1227.4,901.3 1228.0,902.0 1228.6,901.5 1229.2,902.0 1229.8,901.5 1230.4,901.9 1231.0,901.1 1231.6,902.1 1232.2,902.7 1232.8,902.2 1233.4,901.3 1234.0,900.4 1234.6,901.5 1235.2,900.7 1235.8,901.2 1236.4,901.7 1237.0,899.9 1237.6,901.0 1238.2,901.0 1238.8,901.6 1239.4,901.4 1240.0,902.2 1240.6,901.5 1241.2,901.7 1241.8,900.2 1242.4,901.3 1243.0,901.0 1243.6,901.1 1244.2,901.6 1244.8,900.2 1245.4,899.4 1246.0,901.8 1246.6,900.6 1247.2,900.5 1247.8,901.5 1248.4,901.3 1249.0,901.0 1249.6,901.2 1250.2,901.6 1250.8,900.8 1251.4,901.5 1252.0,902.8 1252.6,902.1 1253.2,902.0 1253.8,903.1 1254.4,902.2 1255.0,903.1 1255.6,902.4 1256.2,902.2 1256.8,902.6 1257.4,902.6 1258.0,901.7 1258.6,903.7 1259.2,902.9 1259.8,903.8 1260.4,902.2 1261.0,902.4 1261.6,901.9 1262.2,902.4 1262.8,902.9 1263.4,903.6 1264.0,902.2 1264.6,902.2 1265.2,902.9 1265.8,902.7 1266.4,902.1 1267.0,902.3 1267.6,902.3 1268.2,903.4 1268.8,902.6 1269.4,902.8 1270.0,903.8 1270.6,902.9 1271.2,904.0 1271.8,902.7 1272.4,903.2 1273.0,904.3 1273.6,903.9 1274.2,903.1 1274.8,902.9 1275.4,902.6 1276.0,903.6 1276.6,903.2 1277.2,903.4 1277.8,903.1 1278.4,904.3 1279.0,903.6 1279.6,902.0 1280.2,902.9 1280.8,902.1 1281.4,902.9 1282.0,902.7 1282.6,903.1 1283.2,902.8 1283.8,902.0 1284.4,903.6 1285.0,902.3 1285.6,902.9 1286.2,903.0 1286.8,903.6 1287.4,902.8 1288.0,903.4 1288.6,903.6 1289.2,904.7 1289.8,903.2 1290.4,903.7 1291.0,904.0 1291.6,903.5 1292.2,903.6 1292.8,904.0 1293.4,903.0 1294.0,901.9 1294.6,903.1 1295.2,903.3 1295.8,903.4 1296.4,903.3 1297.0,903.7 1297.6,903.1 1298.2,902.8 1298.8,902.6 1299.4,902.6 1300.0,903.9 1300.6,903.1 1301.2,903.0 1301.8,904.3 1302.4,902.7 1303.0,903.8 1303.6,902.7 1304.2,902.9 1304.8,902.9 1305.4,903.4 1306.0,903.0 1306.6,903.8 1307.2,903.0 1307.8,904.5 1308.4,903.4 1309.0,902.7 1309.6,903.3 1310.2,903.3 1310.8,904.1 1311.4,903.2 1312.0,904.6 1312.6,903.5 1313.2,903.7 1313.8,904.6 1314.4,902.8 1315.0,905.2 1315.6,903.5 1316.2,902.9 1316.8,904.8 1317.4,903.9 1318.0,902.9 1318.6,904.3 1319.2,904.8 1319.8,904.8 1320.4,904.1 1321.0,903.2 1321.6,903.4 1322.2,904.0 1322.8,903.7 1323.4,903.3 1324.0,904.2 1324.6,902.6 1325.2,904.3 1325.8,902.8 1326.4,903.2 1327.0,903.5 1327.6,904.2 1328.2,904.6 1328.8,903.2 1329.4,903.7 1330.0,904.1 1330.6,904.5 1331.2,904.3 1331.8,904.3 1332.4,905.9 1333.0,905.5 1333.6,905.2 1334.2,905.7 1334.8,905.1 1335.4,904.3 1336.0,904.1 1336.6,905.5 1337.2,905.0 1337.8,904.9 1338.4,904.3 1339.0,904.8 1339.6,904.7 1340.2,905.3 1340.8,905.1 1341.4,903.9 1342.0,905.2 1342.6,904.7 1343.2,905.0 1343.8,904.1 1344.4,904.8 1345.0,903.4 1345.6,905.1 1346.2,904.0 1346.8,904.7 1347.4,904.2 1348.0,904.6 1348.6,904.6 1349.2,903.9 1349.8,904.7 1350.4,905.2 1351.0,904.7 1351.6,905.3 1352.2,905.9 1352.8,904.6 1353.4,905.4 1354.0,904.7 1354.6,904.0 1355.2,905.1 1355.8,904.0 1356.4,904.8 1357.0,906.2 1357.6,904.5 1358.2,904.4 1358.8,904.9 1359.4,905.5 1360.0,905.8 1360.6,905.1 1361.2,905.1 1361.8,905.9 1362.4,905.6 1363.0,906.3 1363.6,905.3 1364.2,906.7 1364.8,906.0 1365.4,905.9 1366.0,904.9 1366.6,905.6 1367.2,905.7 1367.8,906.3 1368.4,905.6 1369.0,904.8 1369.6,904.4 1370.2,905.6 1370.8,904.2 1371.4,905.8 1372.0,904.8 1372.6,904.2 1373.2,903.9 1373.8,905.1 1374.4,904.1 1375.0,904.2 1375.6,902.9 1376.2,904.1 1376.8,903.5 1377.4,902.8 1378.0,904.1 1378.6,904.2 1379.2,903.7 1379.8,905.9 1380.4,904.0 1381.0,904.3 1381.6,905.1 1382.2,905.2 1382.8,905.2 1383.4,904.9 1384.0,906.0 1384.6,904.6 1385.2,904.0 1385.8,904.5 1386.4,905.0 1387.0,905.1 1387.6,906.1 1388.2,904.9 1388.8,904.6 1389.4,904.5 1390.0,904.4 1390.6,905.2 1391.2,904.1 1391.8,905.6 1392.4,904.3 1393.0,904.5 1393.6,905.0 1394.2,904.1 1394.8,905.2 1395.4,905.2 1396.0,906.0 1396.6,905.7 1397.2,904.0 1397.8,905.6 1398.4,904.9 1399.0,905.0 1399.6,905.2 1400.2,907.0 1400.8,905.7 1401.4,906.1 1402.0,906.8 1402.6,907.5 1403.2,906.4 1403.8,906.9 1404.4,907.1 1405.0,907.2 1405.6,907.2 1406.2,906.8 1406.8,907.3 1407.4,907.4 1408.0,907.4 1408.6,907.9 1409.2,908.3 1409.8,908.1 1410.4,908.4 1411.0,909.3 1411.6,909.3 1412.2,908.4 1412.8,908.0 1413.4,910.4 1414.0,909.0 1414.6,910.2 1415.2,909.2 1415.8,910.3 1416.4,909.6 1417.0,909.4 1417.6,909.2 1418.2,909.6 1418.8,909.4 1419.4,910.2 1420.0,910.2 1420.6,910.7 1421.2,910.9 1421.8,910.1 1422.4,911.1 1423.0,911.0 1423.6,911.6 1424.2,912.0 1424.8,910.9 1425.4,910.0 1426.0,911.2 1426.6,911.2 1427.2,910.7 1427.8,911.6 1428.4,911.3 1429.0,911.9 1429.6,910.9 1430.2,911.8 1430.8,911.6 1431.4,911.7 1432.0,912.4 1432.6,911.6 1433.2,911.8 1433.8,912.5 1434.4,911.3 1435.0,912.6 1435.6,911.9 1436.2,911.0 1436.8,913.1 1437.4,913.3 1438.0,912.5 1438.6,911.9 1439.2,911.6 1439.8,912.8 1440.4,913.6 1441.0,912.0 1441.6,912.9 1442.2,914.0 1442.8,913.6 1443.4,913.2 1444.0,914.6 1444.6,912.8 1445.2,914.0 1445.8,914.4 1446.4,913.2 1447.0,913.8 1447.6,914.0 1448.2,915.7 1448.8,914.4 1449.4,914.4 1450.0,914.2 1450.6,915.8 1451.2,915.6 1451.8,914.0 1452.4,914.0 1453.0,914.8 1453.6,914.6 1454.2,914.7 1454.8,914.1 1455.4,913.6 1456.0,914.8 1456.6,914.3 1457.2,916.3 1457.8,915.2 1458.4,915.4 1459.0,915.6 1459.6,915.1 1460.2,915.7 1460.8,915.1 1461.4,915.8 1462.0,916.1 1462.6,915.9 1463.2,914.5 1463.8,916.1 1464.4,915.3 1465.0,916.2 1465.6,915.7 1466.2,915.6 1466.8,915.9 1467.4,915.2 1468.0,915.7 1468.6,915.5 1469.2,916.2 1469.8,916.5 1470.4,915.6 1471.0,916.0 1471.6,915.9 1472.2,917.4 1472.8,916.1 1473.4,916.5 1474.0,916.5 1474.6,916.1 1475.2,917.0 1475.8,916.5 1476.4,917.3 1477.0,916.3 1477.6,917.0 1478.2,918.2 1478.8,917.5 1479.4,917.1 1480.0,917.7 1480.6,916.6 1481.2,917.6 1481.8,917.6 1482.4,917.8 1483.0,917.8 1483.6,918.0 1484.2,917.2 1484.8,917.3 1485.4,917.0 1486.0,917.9 1486.6,916.6 1487.2,917.5 1487.8,917.1 1488.4,917.6 1489.0,918.6 1489.6,917.0 1490.2,917.9 1490.8,918.0 1491.4,916.6 1492.0,917.2 1492.6,917.5 1493.2,916.9 1493.8,917.2 1494.4,917.4 1495.0,917.7 1495.6,917.4 1496.2,918.3 1496.8,917.9 1497.4,917.5 1498.0,917.6 1498.6,916.4 1499.2,916.3 1499.8,916.3 1500.4,917.0 1501.0,917.6 1501.6,916.5 1502.2,916.1 1502.8,916.2 1503.4,916.8 1504.0,916.1 1504.6,916.4 1505.2,917.3 1505.8,917.6 1506.4,917.0 1507.0,916.9 1507.6,916.7 1508.2,917.2 1508.8,915.5 1509.4,916.8 1510.0,916.7 1510.6,916.4 1511.2,916.3 1511.8,916.6 1512.4,916.1 1513.0,916.6 1513.6,915.8 1514.2,916.4 1514.8,916.7 1515.4,915.7 1516.0,916.8 1516.6,916.6 1517.2,916.6 1517.8,917.3 1518.4,916.9 1519.0,916.3 1519.6,917.2 1520.2,917.5 1520.8,916.7 1521.4,916.7 1522.0,916.6 1522.6,916.4 1523.2,916.1 1523.8,916.8 1524.4,916.9 1525.0,915.5 1525.6,916.1 1526.2,915.9 1526.8,916.4 1527.4,916.6 1528.0,916.2 1528.6,916.6 1529.2,916.4 1529.8,916.2 1530.4,916.1 1531.0,916.4 1531.6,915.4 1532.2,915.1 1532.8,916.1 1533.4,916.1 1534.0,916.5 1534.6,915.5 1535.2,914.9 1535.8,915.6 1536.4,916.1 1537.0,914.9 1537.6,915.0 1538.2,914.7 1538.8,914.0 1539.4,915.3 1540.0,914.2 1540.6,915.2 1541.2,913.9 1541.8,913.1 1542.4,913.4 1543.0,913.4 1543.6,913.5 1544.2,913.8 1544.8,913.8 1545.4,915.0 1546.0,913.0 1546.6,913.8 1547.2,914.6 1547.8,915.1 1548.4,914.8 1549.0,914.8 1549.6,915.2 1550.2,914.9 1550.8,914.9 1551.4,915.2 1552.0,914.3 1552.6,915.1 1553.2,914.7 1553.8,915.3 1554.4,915.1 1555.0,915.9 1555.6,915.5 1556.2,915.4 1556.8,914.8 1557.4,915.5 1558.0,914.0 1558.6,915.5 1559.2,915.5 1559.8,915.1 1560.4,915.3 1561.0,914.2 1561.6,914.7 1562.2,914.4 1562.8,915.2 1563.4,915.2 1564.0,915.7 1564.6,914.2 1565.2,914.2 1565.8,914.8 1566.4,914.1 1567.0,913.9 1567.6,914.5 1568.2,914.0 1568.8,913.5 1569.4,914.3 1570.0,913.5 1570.6,912.8 1571.2,913.4 1571.8,913.4 1572.4,913.0 1573.0,913.9 1573.6,913.5 1574.2,913.7 1574.8,913.8 1575.4,913.1 1576.0,913.1 1576.6,913.2 1577.2,912.9 1577.8,913.8 1578.4,912.6 1579.0,912.3 1579.6,913.3 1580.2,913.0 1580.8,912.4 1581.4,913.5 1582.0,913.6 1582.6,912.8 1583.2,912.6 1583.8,913.7 1584.4,913.7 1585.0,913.7 1585.6,913.2 1586.2,913.8 1586.8,914.3 1587.4,913.8 1588.0,913.9 1588.6,914.2 1589.2,913.9 1589.8,913.7 1590.4,913.9 1591.0,914.2 1591.6,913.9 1592.2,914.0 1592.8,913.4 1593.4,913.6 1594.0,912.8 1594.6,914.1 1595.2,913.8 1595.8,913.0 1596.4,913.8 1597.0,913.1 1597.6,913.8 1598.2,914.4 1598.8,913.4 1599.4,912.9 1600.0,913.0 1600.6,913.3 1601.2,912.8 1601.8,913.4 1602.4,912.0 1603.0,913.7 1603.6,912.9 1604.2,913.0 1604.8,913.8 1605.4,913.7 1606.0,912.4 1606.6,912.7 1607.2,913.9 1607.8,913.3 1608.4,913.2 1609.0,914.1 1609.6,913.7 1610.2,914.0 1610.8,913.5 1611.4,913.7 1612.0,913.9 1612.6,914.1 1613.2,914.5 1613.8,913.1 1614.4,913.6 1615.0,913.6 1615.6,914.0 1616.2,913.6 1616.8,914.1 1617.4,914.7 1618.0,914.2 1618.6,914.9 1619.2,914.3 1619.8,913.4 1620.4,914.4 1621.0,914.6 1621.6,914.1 1622.2,914.4 1622.8,915.1 1623.4,914.6 1624.0,913.8 1624.6,913.6 1625.2,914.5 1625.8,914.5 1626.4,913.5 1627.0,914.0 1627.6,914.1 1628.2,914.6 1628.8,914.5 1629.4,915.3 1630.0,913.8 1630.6,913.2 1631.2,914.2 1631.8,914.8 1632.4,913.8 1633.0,913.9 1633.6,914.7 1634.2,914.6 1634.8,915.4 1635.4,914.5 1636.0,916.1 1636.6,915.3 1637.2,915.3 1637.8,914.1 1638.4,915.1 1639.0,915.8 1639.6,914.7 1640.2,915.8 1640.8,915.3 1641.4,915.6 1642.0,915.2 1642.6,915.6 1643.2,914.1 1643.8,915.0 1644.4,914.9 1645.0,915.2 1645.6,915.0 1646.2,914.6 1646.8,915.6 1647.4,915.6 1648.0,915.4 1648.6,915.9 1649.2,915.3 1649.8,915.9 1650.4,915.8 1651.0,914.9 1651.6,915.8 1652.2,915.1 1652.8,915.4 1653.4,915.0 1654.0,916.0 1654.6,915.6 1655.2,914.2 1655.8,915.1 1656.4,915.0 1657.0,915.7 1657.6,916.4 1658.2,916.3 1658.8,915.5 1659.4,915.5 1660.0,916.7 1660.6,916.7 1661.2,917.4 1661.8,917.3 1662.4,917.2 1663.0,917.8 1663.6,917.3 1664.2,917.5 1664.8,916.9 1665.4,917.4 1666.0,918.1 1666.6,916.7 1667.2,916.6 1667.8,917.0 1668.4,917.8 1669.0,917.3 1669.6,916.8 1670.2,917.5 1670.8,917.1 1671.4,917.1 1672.0,916.4 1672.6,916.1 1673.2,917.3 1673.8,916.7 1674.4,917.4 1675.0,918.1 1675.6,917.5 1676.2,916.4 1676.8,917.2 1677.4,916.7 1678.0,917.2 1678.6,917.5 1679.2,916.9 1679.8,917.3 1680.4,917.1 1681.0,917.2 1681.6,917.4 1682.2,916.9 1682.8,917.5 1683.4,917.6 1684.0,916.5 1684.6,916.9 1685.2,917.0 1685.8,916.0 1686.4,916.6 1687.0,917.8 1687.6,917.5 1688.2,917.2 1688.8,917.2 1689.4,917.6 1690.0,916.3 1690.6,917.7 1691.2,916.5 1691.8,916.5 1692.4,916.0 1693.0,916.7 1693.6,916.0 1694.2,916.4 1694.8,916.0 1695.4,917.0 1696.0,917.2 1696.6,916.1 1697.2,915.8 1697.8,915.9 1698.4,917.0 1699.0,915.8 1699.6,916.0 1700.2,916.4 1700.8,917.2 1701.4,916.4 1702.0,916.2 1702.6,916.7 1703.2,915.4 1703.8,915.7 1704.4,916.9 1705.0,917.0 1705.6,916.8 1706.2,916.8 1706.8,916.5 1707.4,916.6 1708.0,917.7 1708.6,916.3 1709.2,917.5 1709.8,916.8 1710.4,916.0 1711.0,917.1 1711.6,916.3 1712.2,916.9 1712.8,916.8 1713.4,917.7 1714.0,916.1 1714.6,915.3 1715.2,916.4 1715.8,916.5 1716.4,916.0 1717.0,915.7 1717.6,916.3 1718.2,916.4 1718.8,915.8 1719.4,916.5 1720.0,916.1 1720.6,916.1 1721.2,915.6 1721.8,915.9 1722.4,916.7 1723.0,917.0 1723.6,917.0 1724.2,916.4 1724.8,916.4 1725.4,916.0 1726.0,916.1 1726.6,916.3 1727.2,917.1 1727.8,917.2 1728.4,916.8 1729.0,917.0 1729.6,916.2 1730.2,916.6 1730.8,917.2 1731.4,916.9 1732.0,917.2 1732.6,916.2 1733.2,917.7 1733.8,916.7 1734.4,916.5 1735.0,916.8 1735.6,915.5 1736.2,916.5 1736.8,917.7 1737.4,916.3 1738.0,917.1 1738.6,915.7 1739.2,915.8 1739.8,915.7 1740.4,917.2 1741.0,915.5 1741.6,916.7 1742.2,916.1 1742.8,916.9 1743.4,915.9 1744.0,916.1 1744.6,916.6 1745.2,915.4 1745.8,915.2 1746.4,917.3 1747.0,916.2 1747.6,916.3 1748.2,916.0 1748.8,916.1 1749.4,915.8 1750.0,916.0 1750.6,915.0 1751.2,914.4 1751.8,915.3 1752.4,916.6 1753.0,915.5 1753.6,915.0 1754.2,917.0 1754.8,916.9 1755.4,916.3 1756.0,917.2 1756.6,917.3 1757.2,916.6 1757.8,918.1 1758.4,917.9 1759.0,917.9 1759.6,918.4 1760.2,916.8 1760.8,917.8 1761.4,918.7 1762.0,918.4 1762.6,916.9 1763.2,917.8 1763.8,917.0 1764.4,917.3 1765.0,916.5 1765.6,917.5 1766.2,917.7 1766.8,917.0 1767.4,916.9 1768.0,916.4 1768.6,916.1 1769.2,917.0 1769.8,916.7 1770.4,916.4 1771.0,915.9 1771.6,915.7 1772.2,916.7 1772.8,916.7 1773.4,916.3 1774.0,916.3 1774.6,915.5 1775.2,915.8 1775.8,915.7 1776.4,916.4 1777.0,916.0 1777.6,916.1 1778.2,915.7 1778.8,916.1 1779.4,915.1 1780.0,916.9 1780.6,915.9 1781.2,916.1 1781.8,916.0 1782.4,915.3 1783.0,916.4 1783.6,915.7 1784.2,915.5 1784.8,916.2 1785.4,915.2 1786.0,916.0 1786.6,916.7 1787.2,915.6 1787.8,916.2 1788.4,915.4 1789.0,916.3 1789.6,916.5 1790.2,915.6 1790.8,917.4 1791.4,917.7 1792.0,915.6 1792.6,916.9 1793.2,916.4 1793.8,916.5 1794.4,916.8 1795.0,916.6 1795.6,916.4 1796.2,916.6 1796.8,916.2 1797.4,916.5 1798.0,915.9 1798.6,916.6 1799.2,917.1 1799.8,915.9 1800.4,915.5 1801.0,916.2 1801.6,914.2 1802.2,915.0 1802.8,914.4 1803.4,914.6 1804.0,914.3 1804.6,914.8 1805.2,915.6 1805.8,914.7 1806.4,915.1 1807.0,916.0 1807.6,915.8 1808.2,916.1 1808.8,915.8 1809.4,915.6 1810.0,915.7 1810.6,915.8 1811.2,915.3 1811.8,914.7 1812.4,915.5 1813.0,915.8 1813.6,915.2 1814.2,916.0 1814.8,915.8 1815.4,915.1 1816.0,914.8 1816.6,915.1 1817.2,914.5 1817.8,914.6 1818.4,914.2 1819.0,914.4 1819.6,915.0 1820.2,914.6 1820.8,915.1 1821.4,914.9 1822.0,915.0 1822.6,915.2 1823.2,913.9 1823.8,914.8 1824.4,915.1 1825.0,915.7 1825.6,915.1 1826.2,916.0 1826.8,915.3 1827.4,914.6 1828.0,913.7 1828.6,914.1 1829.2,914.0 1829.8,914.1 1830.4,914.2 1831.0,913.2 1831.6,914.2 1832.2,913.7 1832.8,913.6 1833.4,913.3 1834.0,914.2 1834.6,913.8 1835.2,913.0 1835.8,914.3 1836.4,914.2 1837.0,913.5 1837.6,914.7 1838.2,914.2 1838.8,914.5 1839.4,913.7 1840.0,914.0 1840.6,914.5 1841.2,914.6 1841.8,913.9 1842.4,913.1 1843.0,914.5 1843.6,914.3 1844.2,915.2 1844.8,914.1 1845.4,914.9 1846.0,913.9 1846.6,914.9 1847.2,914.6 1847.8,915.0 1848.4,914.8 1849.0,914.7 1849.6,915.6 1850.2,915.4 1850.8,914.7 1851.4,914.1 1852.0,914.1 1852.6,915.0 1853.2,914.4 1853.8,913.9 1854.4,913.9 1855.0,915.0 1855.6,914.3 1856.2,913.8 1856.8,915.1 1857.4,914.5 1858.0,913.6 1858.6,913.7 1859.2,914.5 1859.8,914.4" fill="none" stroke="#ff0000" stroke-width="9.3" stroke-linecap="round" stroke-linejoin="round"/>
<path d="M1401.4,907L1401.4,912.3" fill="none" stroke="#ff0000" stroke-width="8.6" stroke-linecap="round"/>
<line x1="305.4" y1="518.4" x2="1866.5" y2="518.4" stroke="#ff0000" stroke-width="9.2" stroke-linecap="round" stroke-dasharray="20.8 20.82"/>
<line x1="317.7" y1="117.0" x2="474.5" y2="117.0" stroke="#0000ff" stroke-width="9.6" stroke-linecap="round"/>
<line x1="317.7" y1="196.0" x2="474.5" y2="196.0" stroke="#ff0000" stroke-width="9.6" stroke-linecap="round"/>
<defs><filter id="crisp" filterUnits="userSpaceOnUse" x="0" y="0" width="1895" height="1397" color-interpolation-filters="sRGB"><feComponentTransfer><feFuncA type="discrete" tableValues="0 1"/></feComponentTransfer></filter></defs>
<g filter="url(#crisp)">
<g><text class="bi" transform="translate(118.00 873.78) rotate(-90) scale(0.9760 1.0000)" font-size="95.00" fill="#000">MA</text> <text class="b" transform="translate(118.00 700.99) rotate(-90) scale(0.9860 1.0000)" font-size="95.00" fill="#000">/</text> <text class="b" transform="translate(118.00 650.41) rotate(-90) scale(0.9809 1.0000)" font-size="95.00" fill="#000">A</text> <text class="b" transform="translate(118.00 558.58) rotate(-90) scale(0.9703 1.0000)" font-size="95.00" fill="#000">mg</text><text class="b" transform="translate(137.10 434.04) rotate(-90) scale(0.9759 1.0000)" font-size="66.50" fill="#000">metal</text><text class="b" transform="translate(70.90 278.33) rotate(-90) scale(0.9976 1.0000)" font-size="66.50" fill="#000">-1</text></g>
<g><text class="r" transform="translate(178.26 95.30) scale(0.9680 1)" x="0.00 48.87 70.95" font-size="96.10" fill="#000">0.3</text></g>
<g><text class="r" transform="translate(178.26 465.63) scale(0.9680 1)" x="0.00 48.87 72.84" font-size="96.10" fill="#000">0.2</text></g>
<g><text class="r" transform="translate(178.26 835.97) scale(0.9680 1)" x="0.00 48.87 71.94" font-size="96.10" fill="#000">0.1</text></g>
<g><text class="r" transform="translate(249.06 1206.30) scale(0.9673 1.0000)" font-size="96.10" fill="#000">0</text></g>
<g><text class="b" transform="translate(494.60 147.10) scale(0.9746 1.0000)" font-size="78.20" fill="#000">Pt</text><text class="b" transform="translate(566.34 162.70) scale(1.0530 1.0000)" font-size="55.60" fill="#000">2</text><text class="b" transform="translate(596.80 147.10) scale(0.9728 1.0000)" font-size="78.20" fill="#000">Ru</text><text class="b" transform="translate(694.78 162.20) scale(1.0164 1.0000)" font-size="55.60" fill="#000">3</text><text class="b" transform="translate(723.85 147.10) scale(0.9875 1.0000)" font-size="78.20" fill="#000">/</text> <text class="b" transform="translate(765.92 147.10) scale(0.9899 1.0000)" font-size="78.20" fill="#000">CB</text></g>
<g><text class="b" transform="translate(494.60 226.10) scale(0.9746 1.0000)" font-size="78.20" fill="#000">Pt</text><text class="b" transform="translate(566.34 241.70) scale(1.0530 1.0000)" font-size="55.60" fill="#000">2</text><text class="b" transform="translate(596.80 226.10) scale(0.9728 1.0000)" font-size="78.20" fill="#000">Ru</text><text class="b" transform="translate(694.78 241.20) scale(1.0164 1.0000)" font-size="55.60" fill="#000">3</text><text class="b" transform="translate(723.85 226.10) scale(0.9875 1.0000)" font-size="78.20" fill="#000">/</text> <text class="b" transform="translate(766.85 226.10) scale(0.9737 1.0000)" font-size="78.20" fill="#000">Sb-SnO</text><text class="b" transform="translate(1024.21 241.30) scale(1.0660 1.0000)" font-size="55.60" fill="#000">2</text></g>
<g><text class="b" transform="translate(1476.87 227.90) scale(1.0010 1.0000)" font-size="87.70" fill="#0000ff">100%</text> <text class="b" transform="translate(1720.66 227.90) scale(0.9638 1.0000)" font-size="87.70" fill="#0000ff">H</text><text class="b" transform="translate(1779.01 245.10) scale(1.0254 1.0000)" font-size="62.50" fill="#0000ff">2</text></g>
<g><text class="b" transform="translate(1467.87 465.90) scale(1.0010 1.0000)" font-size="87.70" fill="#ff0000">100%</text> <text class="b" transform="translate(1711.66 465.90) scale(0.9638 1.0000)" font-size="87.70" fill="#ff0000">H</text><text class="b" transform="translate(1770.01 483.10) scale(1.0254 1.0000)" font-size="62.50" fill="#ff0000">2</text></g>
<g><text class="b" transform="translate(1317.06 868.70) scale(0.9883 1.0000)" font-size="87.70" fill="#ff0000">1000</text> <text class="b" transform="translate(1516.15 868.70) scale(0.9405 1.0000)" font-size="87.70" fill="#ff0000">ppm</text> <text class="b" transform="translate(1700.82 868.70) scale(0.9993 1.0000)" font-size="87.70" fill="#ff0000">CO</text></g>
<g><text class="b" transform="translate(1317.06 1024.90) scale(0.9883 1.0000)" font-size="87.70" fill="#0000ff">1000</text> <text class="b" transform="translate(1516.15 1024.90) scale(0.9405 1.0000)" font-size="87.70" fill="#0000ff">ppm</text> <text class="b" transform="translate(1700.82 1024.90) scale(0.9993 1.0000)" font-size="87.70" fill="#0000ff">CO</text></g>
<g><text class="r" transform="translate(283.16 1264.80) scale(0.9673 1.0000)" font-size="96.10" fill="#000">0</text></g>
<g><text class="r" transform="translate(735.37 1264.80) scale(1.0009 1.0000)" font-size="96.10" fill="#000">20</text></g>
<g><text class="r" transform="translate(1215.87 1264.80) scale(0.9772 1.0000)" font-size="96.10" fill="#000">40</text></g>
<g><text class="r" transform="translate(1694.44 1264.80) scale(0.9829 1.0000)" font-size="96.10" fill="#000">60</text></g>
<g><text class="bi" transform="translate(953.44 1369.20) scale(1.0624 1.0600)" font-size="95.00" fill="#000">t</text> <text class="b" transform="translate(1006.60 1368.90) scale(0.9683 1.0350)" font-size="95.00" fill="#000">/</text> <text class="b" transform="translate(1058.50 1368.80) scale(0.9419 0.9720)" font-size="95.00" fill="#000">min</text></g>
</g>
</svg></body></html>
